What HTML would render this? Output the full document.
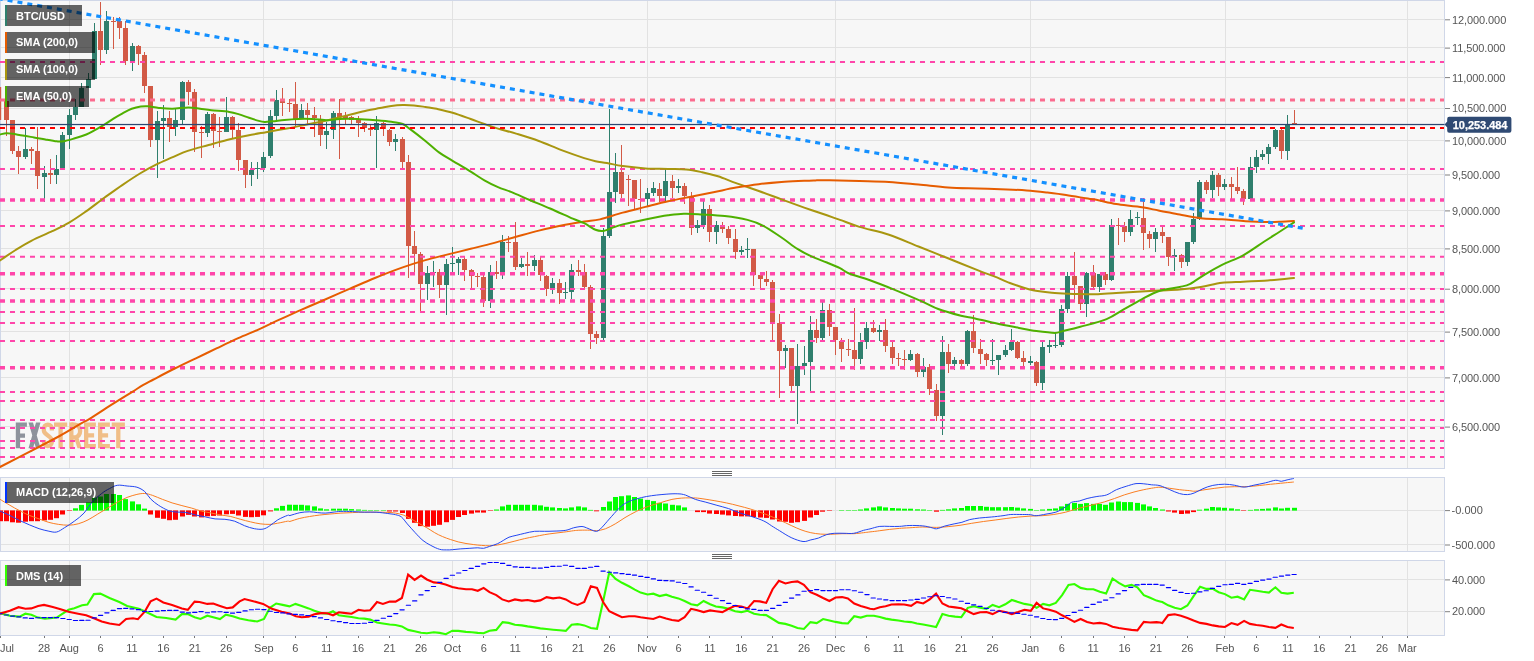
<!DOCTYPE html><html><head><meta charset="utf-8"><title>BTC/USD</title><style>
html,body{margin:0;padding:0;background:#fff;}body{width:1534px;height:661px;overflow:hidden;font-family:"Liberation Sans",sans-serif;}
svg{display:block;will-change:transform}text{font-family:"Liberation Sans",sans-serif;font-size:11px;fill:#555}
.lg{font-weight:bold;fill:#fff;font-size:11px}
</style></head><body>
<svg width="1534" height="661" viewBox="0 0 1534 661">
<rect width="1534" height="661" fill="#fff"/>
<rect x="0" y="0" width="1445" height="469" fill="#f7f7f7"/>
<rect x="0" y="477" width="1445" height="75" fill="#f7f7f7"/>
<rect x="0" y="560" width="1445" height="76" fill="#f7f7f7"/>
<g shape-rendering="crispEdges">
<rect x="69" y="0" width="1" height="468" fill="#e2e2e2"/>
<rect x="263" y="0" width="1" height="468" fill="#e2e2e2"/>
<rect x="452" y="0" width="1" height="468" fill="#e2e2e2"/>
<rect x="647" y="0" width="1" height="468" fill="#e2e2e2"/>
<rect x="835" y="0" width="1" height="468" fill="#e2e2e2"/>
<rect x="1030" y="0" width="1" height="468" fill="#e2e2e2"/>
<rect x="1225" y="0" width="1" height="468" fill="#e2e2e2"/>
<rect x="1407" y="0" width="1" height="468" fill="#e2e2e2"/>
<rect x="69" y="477" width="1" height="74" fill="#e2e2e2"/>
<rect x="263" y="477" width="1" height="74" fill="#e2e2e2"/>
<rect x="452" y="477" width="1" height="74" fill="#e2e2e2"/>
<rect x="647" y="477" width="1" height="74" fill="#e2e2e2"/>
<rect x="835" y="477" width="1" height="74" fill="#e2e2e2"/>
<rect x="1030" y="477" width="1" height="74" fill="#e2e2e2"/>
<rect x="1225" y="477" width="1" height="74" fill="#e2e2e2"/>
<rect x="1407" y="477" width="1" height="74" fill="#e2e2e2"/>
<rect x="69" y="560" width="1" height="75" fill="#e2e2e2"/>
<rect x="263" y="560" width="1" height="75" fill="#e2e2e2"/>
<rect x="452" y="560" width="1" height="75" fill="#e2e2e2"/>
<rect x="647" y="560" width="1" height="75" fill="#e2e2e2"/>
<rect x="835" y="560" width="1" height="75" fill="#e2e2e2"/>
<rect x="1030" y="560" width="1" height="75" fill="#e2e2e2"/>
<rect x="1225" y="560" width="1" height="75" fill="#e2e2e2"/>
<rect x="1407" y="560" width="1" height="75" fill="#e2e2e2"/>
<rect x="0" y="19" width="1445" height="1" fill="#e2e2e2"/>
<rect x="0" y="47" width="1445" height="1" fill="#e2e2e2"/>
<rect x="0" y="77" width="1445" height="1" fill="#e2e2e2"/>
<rect x="0" y="108" width="1445" height="1" fill="#e2e2e2"/>
<rect x="0" y="140" width="1445" height="1" fill="#e2e2e2"/>
<rect x="0" y="174" width="1445" height="1" fill="#e2e2e2"/>
<rect x="0" y="210" width="1445" height="1" fill="#e2e2e2"/>
<rect x="0" y="248" width="1445" height="1" fill="#e2e2e2"/>
<rect x="0" y="288" width="1445" height="1" fill="#e2e2e2"/>
<rect x="0" y="331" width="1445" height="1" fill="#e2e2e2"/>
<rect x="0" y="377" width="1445" height="1" fill="#e2e2e2"/>
<rect x="0" y="426" width="1445" height="1" fill="#e2e2e2"/>
<rect x="0" y="510" width="1445" height="1" fill="#e2e2e2"/>
<rect x="0" y="544" width="1445" height="1" fill="#e2e2e2"/>
<rect x="0" y="579" width="1445" height="1" fill="#e2e2e2"/>
<rect x="0" y="611" width="1445" height="1" fill="#e2e2e2"/>
</g>
<g shape-rendering="crispEdges" fill="#d0d7e8">
<rect x="0" y="0" width="1445" height="1"/>
<rect x="0" y="468" width="1445" height="1"/>
<rect x="0" y="0" width="1" height="469"/>
<rect x="1444" y="0" width="1" height="469"/>
<rect x="0" y="477" width="1445" height="1"/>
<rect x="0" y="551" width="1445" height="1"/>
<rect x="0" y="477" width="1" height="75"/>
<rect x="1444" y="477" width="1" height="75"/>
<rect x="0" y="560" width="1445" height="1"/>
<rect x="0" y="635" width="1445" height="1"/>
<rect x="0" y="560" width="1" height="76"/>
<rect x="1444" y="560" width="1" height="76"/>
</g>
<g fill="#8e939c"><path transform="translate(15.8 422.4)" d="M0 0h11.1v4.3h-6.8v6.8h4.9v4.3h-4.9v10.5h-4.3z"/><path transform="translate(28.5 422.4)" d="M0 0h4.5L12 25.9h-4.5zM12 0L4.5 25.9h-4.5L7.5 0z"/></g>
<g fill="#f0be87"><path transform="translate(41.7 422.4)" d="M10.15 8V6.5A4 4.35 0 0 0 2.15 6.5V8C2.15 12.5 10.15 13.5 10.15 18V19.4A4 4.35 0 0 1 2.15 19.4V17.6" fill="none" stroke="#f0be87" stroke-width="4.3"/><path transform="translate(54.0 422.4)" d="M0 0h13.2v4.3h-4.45v21.6h-4.3v-21.6h-4.45z"/><g transform="translate(69.2 422.4)"><path d="M0 0h4.3v25.9h-4.3z"/><path d="M2.15 2.15H6A4.1 5.3 0 0 1 6 14.9H2.15" fill="none" stroke="#f0be87" stroke-width="4.3"/><path d="M4.8 15h4.3L12.7 25.9h-4.4z"/></g><path transform="translate(84.0 422.4)" d="M0 0h11.9v4.3h-7.6v6.6h5.8v4.3h-5.8v6.4h7.6v4.3h-11.9z"/><path transform="translate(98.0 422.4)" d="M0 0h11.9v4.3h-7.6v6.6h5.8v4.3h-5.8v6.4h7.6v4.3h-11.9z"/><path transform="translate(111.7 422.4)" d="M0 0h13.2v4.3h-4.45v21.6h-4.3v-21.6h-4.45z"/></g>
<g shape-rendering="crispEdges">
<rect x="0" y="87.0" width="1.2" height="33.0" fill="#d25a46" shape-rendering="auto"/>
<rect x="6" y="98.6" width="1" height="37.4" fill="#d25a46"/>
<rect x="4" y="101.0" width="5" height="18.5" fill="#d25a46"/>
<rect x="12" y="119.7" width="1" height="34.7" fill="#d25a46"/>
<rect x="10" y="119.7" width="5" height="31.6" fill="#d25a46"/>
<rect x="18" y="146.3" width="1" height="27.2" fill="#d25a46"/>
<rect x="16" y="151.3" width="5" height="5.2" fill="#d25a46"/>
<rect x="25" y="128.0" width="1" height="30.8" fill="#2f7f6d"/>
<rect x="23" y="149.0" width="5" height="7.5" fill="#2f7f6d"/>
<rect x="31" y="147.0" width="1" height="17.4" fill="#d25a46"/>
<rect x="29" y="149.0" width="5" height="1.8" fill="#d25a46"/>
<rect x="37" y="126.5" width="1" height="62.9" fill="#d25a46"/>
<rect x="35" y="151.3" width="5" height="24.9" fill="#d25a46"/>
<rect x="44" y="166.0" width="1" height="35.9" fill="#2f7f6d"/>
<rect x="42" y="172.8" width="5" height="4.1" fill="#2f7f6d"/>
<rect x="50" y="159.2" width="1" height="25.2" fill="#d25a46"/>
<rect x="48" y="172.8" width="5" height="1.8" fill="#d25a46"/>
<rect x="56" y="155.3" width="1" height="28.4" fill="#2f7f6d"/>
<rect x="54" y="169.0" width="5" height="5.6" fill="#2f7f6d"/>
<rect x="62" y="132.2" width="1" height="37.8" fill="#2f7f6d"/>
<rect x="60" y="134.9" width="5" height="33.6" fill="#2f7f6d"/>
<rect x="69" y="108.8" width="1" height="39.7" fill="#2f7f6d"/>
<rect x="67" y="114.5" width="5" height="20.4" fill="#2f7f6d"/>
<rect x="75" y="98.6" width="1" height="20.9" fill="#2f7f6d"/>
<rect x="73" y="106.5" width="5" height="8.0" fill="#2f7f6d"/>
<rect x="81" y="82.7" width="1" height="24.5" fill="#2f7f6d"/>
<rect x="79" y="88.4" width="5" height="18.8" fill="#2f7f6d"/>
<rect x="88" y="72.5" width="1" height="15.9" fill="#2f7f6d"/>
<rect x="86" y="79.3" width="5" height="9.1" fill="#2f7f6d"/>
<rect x="94" y="22.6" width="1" height="56.7" fill="#2f7f6d"/>
<rect x="92" y="30.5" width="5" height="48.8" fill="#2f7f6d"/>
<rect x="100" y="2.4" width="1" height="62.5" fill="#d25a46"/>
<rect x="98" y="30.5" width="5" height="19.1" fill="#d25a46"/>
<rect x="106" y="11.4" width="1" height="42.6" fill="#2f7f6d"/>
<rect x="104" y="21.2" width="5" height="28.4" fill="#2f7f6d"/>
<rect x="113" y="17.3" width="1" height="31.9" fill="#d25a46"/>
<rect x="111" y="20.6" width="5" height="1.0" fill="#d25a46"/>
<rect x="119" y="17.3" width="1" height="22.0" fill="#d25a46"/>
<rect x="117" y="20.6" width="5" height="6.9" fill="#d25a46"/>
<rect x="125" y="21.2" width="1" height="44.1" fill="#d25a46"/>
<rect x="123" y="27.5" width="5" height="33.1" fill="#d25a46"/>
<rect x="132" y="43.3" width="1" height="27.9" fill="#2f7f6d"/>
<rect x="130" y="46.2" width="5" height="14.4" fill="#2f7f6d"/>
<rect x="138" y="44.8" width="1" height="19.7" fill="#d25a46"/>
<rect x="136" y="46.2" width="5" height="7.9" fill="#d25a46"/>
<rect x="144" y="51.5" width="1" height="41.9" fill="#d25a46"/>
<rect x="142" y="54.7" width="5" height="31.2" fill="#d25a46"/>
<rect x="150" y="85.9" width="1" height="61.5" fill="#d25a46"/>
<rect x="148" y="85.9" width="5" height="53.6" fill="#d25a46"/>
<rect x="157" y="111.4" width="1" height="66.2" fill="#2f7f6d"/>
<rect x="155" y="121.2" width="5" height="18.3" fill="#2f7f6d"/>
<rect x="163" y="105.3" width="1" height="53.5" fill="#2f7f6d"/>
<rect x="161" y="118.0" width="5" height="3.2" fill="#2f7f6d"/>
<rect x="169" y="111.0" width="1" height="30.7" fill="#d25a46"/>
<rect x="167" y="118.0" width="5" height="9.0" fill="#d25a46"/>
<rect x="175" y="107.7" width="1" height="28.3" fill="#2f7f6d"/>
<rect x="173" y="120.1" width="5" height="6.9" fill="#2f7f6d"/>
<rect x="182" y="81.0" width="1" height="42.5" fill="#2f7f6d"/>
<rect x="180" y="82.1" width="5" height="38.0" fill="#2f7f6d"/>
<rect x="188" y="80.1" width="1" height="24.7" fill="#d25a46"/>
<rect x="186" y="82.1" width="5" height="9.6" fill="#d25a46"/>
<rect x="194" y="88.9" width="1" height="63.0" fill="#d25a46"/>
<rect x="192" y="91.7" width="5" height="40.4" fill="#d25a46"/>
<rect x="201" y="126.2" width="1" height="31.5" fill="#d25a46"/>
<rect x="199" y="132.1" width="5" height="1.0" fill="#d25a46"/>
<rect x="207" y="111.5" width="1" height="25.9" fill="#2f7f6d"/>
<rect x="205" y="114.4" width="5" height="18.7" fill="#2f7f6d"/>
<rect x="213" y="113.4" width="1" height="35.0" fill="#d25a46"/>
<rect x="211" y="114.4" width="5" height="16.3" fill="#d25a46"/>
<rect x="219" y="117.4" width="1" height="29.9" fill="#d25a46"/>
<rect x="217" y="130.7" width="5" height="1.0" fill="#d25a46"/>
<rect x="226" y="97.3" width="1" height="34.2" fill="#2f7f6d"/>
<rect x="224" y="117.4" width="5" height="14.1" fill="#2f7f6d"/>
<rect x="232" y="116.4" width="1" height="21.6" fill="#d25a46"/>
<rect x="230" y="117.4" width="5" height="12.2" fill="#d25a46"/>
<rect x="238" y="122.9" width="1" height="48.5" fill="#d25a46"/>
<rect x="236" y="129.6" width="5" height="30.4" fill="#d25a46"/>
<rect x="245" y="160.0" width="1" height="27.6" fill="#d25a46"/>
<rect x="243" y="160.0" width="5" height="15.4" fill="#d25a46"/>
<rect x="251" y="161.6" width="1" height="24.0" fill="#2f7f6d"/>
<rect x="249" y="169.5" width="5" height="5.9" fill="#2f7f6d"/>
<rect x="257" y="161.6" width="1" height="17.7" fill="#2f7f6d"/>
<rect x="255" y="168.3" width="5" height="1.0" fill="#2f7f6d"/>
<rect x="263" y="151.8" width="1" height="20.6" fill="#2f7f6d"/>
<rect x="261" y="156.7" width="5" height="11.4" fill="#2f7f6d"/>
<rect x="270" y="109.5" width="1" height="48.2" fill="#2f7f6d"/>
<rect x="268" y="116.0" width="5" height="40.3" fill="#2f7f6d"/>
<rect x="276" y="90.2" width="1" height="32.1" fill="#2f7f6d"/>
<rect x="274" y="100.3" width="5" height="15.7" fill="#2f7f6d"/>
<rect x="282" y="87.5" width="1" height="28.9" fill="#d25a46"/>
<rect x="280" y="99.7" width="5" height="3.3" fill="#d25a46"/>
<rect x="289" y="98.7" width="1" height="12.8" fill="#d25a46"/>
<rect x="287" y="103.0" width="5" height="1.0" fill="#d25a46"/>
<rect x="295" y="81.6" width="1" height="44.6" fill="#d25a46"/>
<rect x="293" y="104.0" width="5" height="14.7" fill="#d25a46"/>
<rect x="301" y="103.6" width="1" height="15.7" fill="#2f7f6d"/>
<rect x="299" y="109.5" width="5" height="9.2" fill="#2f7f6d"/>
<rect x="307" y="102.6" width="1" height="21.1" fill="#d25a46"/>
<rect x="305" y="109.5" width="5" height="5.3" fill="#d25a46"/>
<rect x="314" y="106.5" width="1" height="30.1" fill="#d25a46"/>
<rect x="312" y="114.8" width="5" height="3.2" fill="#d25a46"/>
<rect x="320" y="115.4" width="1" height="30.1" fill="#d25a46"/>
<rect x="318" y="118.5" width="5" height="16.0" fill="#d25a46"/>
<rect x="326" y="122.3" width="1" height="27.1" fill="#2f7f6d"/>
<rect x="324" y="130.7" width="5" height="3.8" fill="#2f7f6d"/>
<rect x="333" y="110.5" width="1" height="28.1" fill="#2f7f6d"/>
<rect x="331" y="113.4" width="5" height="16.7" fill="#2f7f6d"/>
<rect x="339" y="99.3" width="1" height="59.4" fill="#d25a46"/>
<rect x="337" y="113.4" width="5" height="4.0" fill="#d25a46"/>
<rect x="345" y="112.4" width="1" height="12.8" fill="#d25a46"/>
<rect x="343" y="116.4" width="5" height="1.4" fill="#d25a46"/>
<rect x="351" y="116.4" width="1" height="7.3" fill="#d25a46"/>
<rect x="349" y="117.4" width="5" height="2.9" fill="#d25a46"/>
<rect x="358" y="116.4" width="1" height="20.2" fill="#d25a46"/>
<rect x="356" y="120.3" width="5" height="2.6" fill="#d25a46"/>
<rect x="364" y="122.3" width="1" height="9.2" fill="#d25a46"/>
<rect x="362" y="122.9" width="5" height="5.3" fill="#d25a46"/>
<rect x="370" y="124.8" width="1" height="10.7" fill="#d25a46"/>
<rect x="368" y="128.2" width="5" height="1.9" fill="#d25a46"/>
<rect x="376" y="116.4" width="1" height="51.1" fill="#2f7f6d"/>
<rect x="374" y="122.9" width="5" height="7.2" fill="#2f7f6d"/>
<rect x="383" y="121.7" width="1" height="14.6" fill="#d25a46"/>
<rect x="381" y="122.9" width="5" height="6.1" fill="#d25a46"/>
<rect x="389" y="129.0" width="1" height="17.3" fill="#d25a46"/>
<rect x="387" y="129.7" width="5" height="12.4" fill="#d25a46"/>
<rect x="395" y="134.2" width="1" height="17.1" fill="#2f7f6d"/>
<rect x="393" y="138.8" width="5" height="3.4" fill="#2f7f6d"/>
<rect x="402" y="137.2" width="1" height="31.1" fill="#d25a46"/>
<rect x="400" y="138.8" width="5" height="22.7" fill="#d25a46"/>
<rect x="408" y="155.3" width="1" height="123.0" fill="#d25a46"/>
<rect x="406" y="161.5" width="5" height="84.5" fill="#d25a46"/>
<rect x="414" y="230.6" width="1" height="42.0" fill="#d25a46"/>
<rect x="412" y="246.0" width="5" height="8.0" fill="#d25a46"/>
<rect x="420" y="251.7" width="1" height="59.5" fill="#d25a46"/>
<rect x="418" y="254.0" width="5" height="29.9" fill="#d25a46"/>
<rect x="427" y="265.8" width="1" height="34.0" fill="#2f7f6d"/>
<rect x="425" y="273.0" width="5" height="10.9" fill="#2f7f6d"/>
<rect x="433" y="261.3" width="1" height="26.0" fill="#2f7f6d"/>
<rect x="431" y="271.5" width="5" height="1.5" fill="#2f7f6d"/>
<rect x="439" y="269.2" width="1" height="28.3" fill="#d25a46"/>
<rect x="437" y="271.5" width="5" height="13.6" fill="#d25a46"/>
<rect x="446" y="258.5" width="1" height="56.1" fill="#2f7f6d"/>
<rect x="444" y="264.2" width="5" height="20.9" fill="#2f7f6d"/>
<rect x="452" y="246.5" width="1" height="25.0" fill="#2f7f6d"/>
<rect x="450" y="263.0" width="5" height="1.2" fill="#2f7f6d"/>
<rect x="458" y="256.7" width="1" height="18.2" fill="#2f7f6d"/>
<rect x="456" y="258.5" width="5" height="4.5" fill="#2f7f6d"/>
<rect x="464" y="255.6" width="1" height="25.6" fill="#d25a46"/>
<rect x="462" y="258.5" width="5" height="11.4" fill="#d25a46"/>
<rect x="471" y="269.2" width="1" height="19.3" fill="#d25a46"/>
<rect x="469" y="269.9" width="5" height="6.1" fill="#d25a46"/>
<rect x="477" y="272.6" width="1" height="14.7" fill="#d25a46"/>
<rect x="475" y="276.0" width="5" height="1.1" fill="#d25a46"/>
<rect x="483" y="274.9" width="1" height="32.2" fill="#d25a46"/>
<rect x="481" y="277.1" width="5" height="23.9" fill="#d25a46"/>
<rect x="490" y="264.7" width="1" height="43.7" fill="#2f7f6d"/>
<rect x="488" y="272.1" width="5" height="28.9" fill="#2f7f6d"/>
<rect x="496" y="261.3" width="1" height="18.1" fill="#d25a46"/>
<rect x="494" y="272.1" width="5" height="1.6" fill="#d25a46"/>
<rect x="502" y="234.5" width="1" height="44.9" fill="#2f7f6d"/>
<rect x="500" y="241.5" width="5" height="31.5" fill="#2f7f6d"/>
<rect x="508" y="236.3" width="1" height="15.9" fill="#d25a46"/>
<rect x="506" y="241.5" width="5" height="1.1" fill="#d25a46"/>
<rect x="515" y="222.2" width="1" height="48.1" fill="#d25a46"/>
<rect x="513" y="242.0" width="5" height="24.9" fill="#d25a46"/>
<rect x="521" y="257.8" width="1" height="9.8" fill="#2f7f6d"/>
<rect x="519" y="264.2" width="5" height="2.7" fill="#2f7f6d"/>
<rect x="527" y="251.7" width="1" height="24.3" fill="#d25a46"/>
<rect x="525" y="264.2" width="5" height="1.6" fill="#d25a46"/>
<rect x="534" y="254.9" width="1" height="15.9" fill="#2f7f6d"/>
<rect x="532" y="260.1" width="5" height="5.7" fill="#2f7f6d"/>
<rect x="540" y="255.6" width="1" height="25.6" fill="#d25a46"/>
<rect x="538" y="260.1" width="5" height="15.2" fill="#d25a46"/>
<rect x="546" y="274.9" width="1" height="21.5" fill="#d25a46"/>
<rect x="544" y="276.0" width="5" height="12.9" fill="#d25a46"/>
<rect x="552" y="278.3" width="1" height="15.8" fill="#2f7f6d"/>
<rect x="550" y="282.8" width="5" height="6.1" fill="#2f7f6d"/>
<rect x="559" y="279.4" width="1" height="25.0" fill="#d25a46"/>
<rect x="557" y="282.8" width="5" height="10.2" fill="#d25a46"/>
<rect x="565" y="281.7" width="1" height="17.7" fill="#2f7f6d"/>
<rect x="563" y="291.9" width="5" height="1.1" fill="#2f7f6d"/>
<rect x="571" y="264.2" width="1" height="35.2" fill="#2f7f6d"/>
<rect x="569" y="269.9" width="5" height="22.0" fill="#2f7f6d"/>
<rect x="578" y="260.1" width="1" height="15.9" fill="#d25a46"/>
<rect x="576" y="269.9" width="5" height="2.2" fill="#d25a46"/>
<rect x="584" y="263.5" width="1" height="25.0" fill="#d25a46"/>
<rect x="582" y="272.1" width="5" height="14.6" fill="#d25a46"/>
<rect x="590" y="285.0" width="1" height="63.6" fill="#d25a46"/>
<rect x="588" y="287.3" width="5" height="47.0" fill="#d25a46"/>
<rect x="596" y="331.1" width="1" height="12.9" fill="#d25a46"/>
<rect x="594" y="334.3" width="5" height="3.4" fill="#d25a46"/>
<rect x="603" y="228.4" width="1" height="111.1" fill="#2f7f6d"/>
<rect x="601" y="235.8" width="5" height="101.9" fill="#2f7f6d"/>
<rect x="609" y="109.3" width="1" height="128.2" fill="#2f7f6d"/>
<rect x="607" y="192.2" width="5" height="43.5" fill="#2f7f6d"/>
<rect x="615" y="153.2" width="1" height="49.9" fill="#2f7f6d"/>
<rect x="613" y="171.8" width="5" height="20.4" fill="#2f7f6d"/>
<rect x="621" y="144.5" width="1" height="53.3" fill="#d25a46"/>
<rect x="619" y="171.8" width="5" height="22.6" fill="#d25a46"/>
<rect x="628" y="174.5" width="1" height="31.3" fill="#d25a46"/>
<rect x="626" y="178.6" width="5" height="1.1" fill="#d25a46"/>
<rect x="634" y="179.7" width="1" height="29.5" fill="#d25a46"/>
<rect x="632" y="180.2" width="5" height="18.3" fill="#d25a46"/>
<rect x="640" y="179.0" width="1" height="34.0" fill="#d25a46"/>
<rect x="638" y="198.9" width="5" height="1.0" fill="#d25a46"/>
<rect x="647" y="188.1" width="1" height="17.7" fill="#2f7f6d"/>
<rect x="645" y="192.6" width="5" height="6.8" fill="#2f7f6d"/>
<rect x="653" y="182.0" width="1" height="13.6" fill="#2f7f6d"/>
<rect x="651" y="188.3" width="5" height="4.3" fill="#2f7f6d"/>
<rect x="659" y="183.1" width="1" height="19.3" fill="#d25a46"/>
<rect x="657" y="188.8" width="5" height="6.8" fill="#d25a46"/>
<rect x="665" y="169.0" width="1" height="32.3" fill="#2f7f6d"/>
<rect x="663" y="181.3" width="5" height="14.3" fill="#2f7f6d"/>
<rect x="672" y="175.2" width="1" height="22.6" fill="#d25a46"/>
<rect x="670" y="181.3" width="5" height="6.3" fill="#d25a46"/>
<rect x="678" y="178.6" width="1" height="14.0" fill="#2f7f6d"/>
<rect x="676" y="186.0" width="5" height="1.6" fill="#2f7f6d"/>
<rect x="684" y="183.1" width="1" height="20.9" fill="#d25a46"/>
<rect x="682" y="186.1" width="5" height="10.2" fill="#d25a46"/>
<rect x="691" y="191.7" width="1" height="43.6" fill="#d25a46"/>
<rect x="689" y="196.7" width="5" height="31.3" fill="#d25a46"/>
<rect x="697" y="219.9" width="1" height="12.7" fill="#2f7f6d"/>
<rect x="695" y="225.1" width="5" height="2.9" fill="#2f7f6d"/>
<rect x="703" y="200.8" width="1" height="28.1" fill="#2f7f6d"/>
<rect x="701" y="208.5" width="5" height="16.6" fill="#2f7f6d"/>
<rect x="709" y="205.3" width="1" height="36.3" fill="#d25a46"/>
<rect x="707" y="208.5" width="5" height="23.4" fill="#d25a46"/>
<rect x="716" y="220.5" width="1" height="23.9" fill="#2f7f6d"/>
<rect x="714" y="225.1" width="5" height="6.8" fill="#2f7f6d"/>
<rect x="722" y="222.1" width="1" height="10.5" fill="#d25a46"/>
<rect x="720" y="225.1" width="5" height="3.4" fill="#d25a46"/>
<rect x="728" y="225.8" width="1" height="18.6" fill="#d25a46"/>
<rect x="726" y="228.9" width="5" height="9.1" fill="#d25a46"/>
<rect x="735" y="228.5" width="1" height="30.6" fill="#d25a46"/>
<rect x="733" y="238.7" width="5" height="12.9" fill="#d25a46"/>
<rect x="741" y="246.2" width="1" height="8.4" fill="#2f7f6d"/>
<rect x="739" y="250.0" width="5" height="1.6" fill="#2f7f6d"/>
<rect x="747" y="238.2" width="1" height="19.8" fill="#2f7f6d"/>
<rect x="745" y="248.9" width="5" height="1.1" fill="#2f7f6d"/>
<rect x="753" y="248.9" width="1" height="37.4" fill="#d25a46"/>
<rect x="751" y="248.9" width="5" height="26.1" fill="#d25a46"/>
<rect x="760" y="275.4" width="1" height="13.2" fill="#d25a46"/>
<rect x="758" y="275.4" width="5" height="3.4" fill="#d25a46"/>
<rect x="766" y="271.1" width="1" height="14.6" fill="#d25a46"/>
<rect x="764" y="278.8" width="5" height="3.0" fill="#d25a46"/>
<rect x="772" y="279.5" width="1" height="60.6" fill="#d25a46"/>
<rect x="770" y="282.2" width="5" height="40.4" fill="#d25a46"/>
<rect x="779" y="314.0" width="1" height="84.4" fill="#d25a46"/>
<rect x="777" y="322.6" width="5" height="28.2" fill="#d25a46"/>
<rect x="785" y="345.3" width="1" height="22.7" fill="#2f7f6d"/>
<rect x="783" y="347.6" width="5" height="3.2" fill="#2f7f6d"/>
<rect x="791" y="347.6" width="1" height="43.1" fill="#d25a46"/>
<rect x="789" y="347.6" width="5" height="38.6" fill="#d25a46"/>
<rect x="797" y="343.5" width="1" height="80.6" fill="#2f7f6d"/>
<rect x="795" y="366.2" width="5" height="20.0" fill="#2f7f6d"/>
<rect x="804" y="346.2" width="1" height="29.1" fill="#2f7f6d"/>
<rect x="802" y="363.3" width="5" height="2.5" fill="#2f7f6d"/>
<rect x="810" y="316.3" width="1" height="74.9" fill="#2f7f6d"/>
<rect x="808" y="329.9" width="5" height="32.2" fill="#2f7f6d"/>
<rect x="816" y="318.6" width="1" height="24.5" fill="#d25a46"/>
<rect x="814" y="329.9" width="5" height="7.9" fill="#d25a46"/>
<rect x="822" y="302.2" width="1" height="37.9" fill="#2f7f6d"/>
<rect x="820" y="310.2" width="5" height="27.6" fill="#2f7f6d"/>
<rect x="829" y="303.8" width="1" height="32.5" fill="#d25a46"/>
<rect x="827" y="310.2" width="5" height="16.3" fill="#d25a46"/>
<rect x="835" y="327.2" width="1" height="28.1" fill="#d25a46"/>
<rect x="833" y="327.2" width="5" height="12.9" fill="#d25a46"/>
<rect x="841" y="337.8" width="1" height="24.3" fill="#d25a46"/>
<rect x="839" y="340.8" width="5" height="8.4" fill="#d25a46"/>
<rect x="848" y="339.4" width="1" height="16.6" fill="#d25a46"/>
<rect x="846" y="349.2" width="5" height="1.1" fill="#d25a46"/>
<rect x="854" y="308.4" width="1" height="61.9" fill="#d25a46"/>
<rect x="852" y="350.3" width="5" height="9.1" fill="#d25a46"/>
<rect x="860" y="332.6" width="1" height="31.3" fill="#2f7f6d"/>
<rect x="858" y="341.7" width="5" height="17.7" fill="#2f7f6d"/>
<rect x="866" y="322.0" width="1" height="27.2" fill="#2f7f6d"/>
<rect x="864" y="328.3" width="5" height="13.4" fill="#2f7f6d"/>
<rect x="873" y="320.4" width="1" height="12.9" fill="#d25a46"/>
<rect x="871" y="328.3" width="5" height="3.4" fill="#d25a46"/>
<rect x="879" y="325.4" width="1" height="15.9" fill="#2f7f6d"/>
<rect x="877" y="330.4" width="5" height="1.1" fill="#2f7f6d"/>
<rect x="885" y="318.6" width="1" height="33.5" fill="#d25a46"/>
<rect x="883" y="330.4" width="5" height="15.8" fill="#d25a46"/>
<rect x="892" y="341.3" width="1" height="22.2" fill="#d25a46"/>
<rect x="890" y="346.5" width="5" height="11.1" fill="#d25a46"/>
<rect x="898" y="353.0" width="1" height="12.8" fill="#d25a46"/>
<rect x="896" y="357.6" width="5" height="1.0" fill="#d25a46"/>
<rect x="904" y="350.3" width="1" height="20.0" fill="#d25a46"/>
<rect x="902" y="359.0" width="5" height="1.0" fill="#d25a46"/>
<rect x="910" y="350.3" width="1" height="10.2" fill="#2f7f6d"/>
<rect x="908" y="354.4" width="5" height="5.5" fill="#2f7f6d"/>
<rect x="917" y="353.0" width="1" height="24.1" fill="#d25a46"/>
<rect x="915" y="354.4" width="5" height="17.5" fill="#d25a46"/>
<rect x="923" y="358.3" width="1" height="18.8" fill="#2f7f6d"/>
<rect x="921" y="367.3" width="5" height="4.6" fill="#2f7f6d"/>
<rect x="929" y="364.4" width="1" height="30.8" fill="#d25a46"/>
<rect x="927" y="367.3" width="5" height="21.6" fill="#d25a46"/>
<rect x="936" y="384.4" width="1" height="36.7" fill="#d25a46"/>
<rect x="934" y="389.6" width="5" height="26.1" fill="#d25a46"/>
<rect x="942" y="336.3" width="1" height="98.2" fill="#2f7f6d"/>
<rect x="940" y="351.5" width="5" height="64.2" fill="#2f7f6d"/>
<rect x="948" y="343.5" width="1" height="29.5" fill="#d25a46"/>
<rect x="946" y="351.5" width="5" height="12.0" fill="#d25a46"/>
<rect x="954" y="357.1" width="1" height="13.2" fill="#2f7f6d"/>
<rect x="952" y="359.9" width="5" height="3.6" fill="#2f7f6d"/>
<rect x="961" y="359.4" width="1" height="7.9" fill="#d25a46"/>
<rect x="959" y="359.9" width="5" height="3.6" fill="#d25a46"/>
<rect x="967" y="329.9" width="1" height="36.3" fill="#2f7f6d"/>
<rect x="965" y="331.0" width="5" height="32.9" fill="#2f7f6d"/>
<rect x="973" y="315.2" width="1" height="37.8" fill="#d25a46"/>
<rect x="971" y="331.0" width="5" height="17.1" fill="#d25a46"/>
<rect x="980" y="338.6" width="1" height="24.9" fill="#d25a46"/>
<rect x="978" y="348.9" width="5" height="5.1" fill="#d25a46"/>
<rect x="986" y="353.0" width="1" height="13.2" fill="#d25a46"/>
<rect x="984" y="354.4" width="5" height="5.1" fill="#d25a46"/>
<rect x="992" y="338.8" width="1" height="25.7" fill="#2f7f6d"/>
<rect x="990" y="359.6" width="5" height="1.1" fill="#2f7f6d"/>
<rect x="998" y="354.8" width="1" height="19.8" fill="#2f7f6d"/>
<rect x="996" y="355.3" width="5" height="4.3" fill="#2f7f6d"/>
<rect x="1005" y="345.4" width="1" height="11.4" fill="#2f7f6d"/>
<rect x="1003" y="350.2" width="5" height="5.1" fill="#2f7f6d"/>
<rect x="1011" y="329.4" width="1" height="21.5" fill="#2f7f6d"/>
<rect x="1009" y="342.1" width="5" height="8.1" fill="#2f7f6d"/>
<rect x="1017" y="341.0" width="1" height="18.2" fill="#d25a46"/>
<rect x="1015" y="342.1" width="5" height="15.8" fill="#d25a46"/>
<rect x="1023" y="350.9" width="1" height="17.1" fill="#d25a46"/>
<rect x="1021" y="357.9" width="5" height="3.9" fill="#d25a46"/>
<rect x="1030" y="355.7" width="1" height="8.8" fill="#2f7f6d"/>
<rect x="1028" y="361.4" width="5" height="1.1" fill="#2f7f6d"/>
<rect x="1036" y="360.7" width="1" height="25.7" fill="#d25a46"/>
<rect x="1034" y="361.8" width="5" height="20.9" fill="#d25a46"/>
<rect x="1042" y="342.1" width="1" height="48.3" fill="#2f7f6d"/>
<rect x="1040" y="346.9" width="5" height="35.8" fill="#2f7f6d"/>
<rect x="1049" y="340.4" width="1" height="12.7" fill="#2f7f6d"/>
<rect x="1047" y="345.4" width="5" height="1.1" fill="#2f7f6d"/>
<rect x="1055" y="333.3" width="1" height="14.9" fill="#2f7f6d"/>
<rect x="1053" y="344.7" width="5" height="1.1" fill="#2f7f6d"/>
<rect x="1061" y="305.3" width="1" height="41.2" fill="#2f7f6d"/>
<rect x="1059" y="309.2" width="5" height="35.5" fill="#2f7f6d"/>
<rect x="1067" y="271.5" width="1" height="41.0" fill="#2f7f6d"/>
<rect x="1065" y="276.3" width="5" height="32.5" fill="#2f7f6d"/>
<rect x="1074" y="251.8" width="1" height="48.2" fill="#d25a46"/>
<rect x="1072" y="276.3" width="5" height="8.8" fill="#d25a46"/>
<rect x="1080" y="285.5" width="1" height="24.8" fill="#d25a46"/>
<rect x="1078" y="285.5" width="5" height="18.9" fill="#d25a46"/>
<rect x="1086" y="271.9" width="1" height="45.0" fill="#2f7f6d"/>
<rect x="1084" y="273.0" width="5" height="31.4" fill="#2f7f6d"/>
<rect x="1093" y="265.4" width="1" height="22.3" fill="#d25a46"/>
<rect x="1091" y="273.0" width="5" height="13.8" fill="#d25a46"/>
<rect x="1099" y="273.5" width="1" height="18.4" fill="#2f7f6d"/>
<rect x="1097" y="274.4" width="5" height="12.3" fill="#2f7f6d"/>
<rect x="1105" y="272.0" width="1" height="13.0" fill="#d25a46"/>
<rect x="1103" y="274.4" width="5" height="5.8" fill="#d25a46"/>
<rect x="1111" y="218.8" width="1" height="61.9" fill="#2f7f6d"/>
<rect x="1109" y="224.6" width="5" height="55.6" fill="#2f7f6d"/>
<rect x="1118" y="218.2" width="1" height="26.5" fill="#d25a46"/>
<rect x="1116" y="224.6" width="5" height="1.1" fill="#d25a46"/>
<rect x="1124" y="221.8" width="1" height="20.3" fill="#d25a46"/>
<rect x="1122" y="225.6" width="5" height="6.4" fill="#d25a46"/>
<rect x="1130" y="210.4" width="1" height="25.8" fill="#2f7f6d"/>
<rect x="1128" y="218.8" width="5" height="13.2" fill="#2f7f6d"/>
<rect x="1137" y="211.9" width="1" height="13.3" fill="#2f7f6d"/>
<rect x="1135" y="217.1" width="5" height="1.1" fill="#2f7f6d"/>
<rect x="1143" y="197.7" width="1" height="52.3" fill="#d25a46"/>
<rect x="1141" y="217.6" width="5" height="15.4" fill="#d25a46"/>
<rect x="1149" y="230.9" width="1" height="16.9" fill="#d25a46"/>
<rect x="1147" y="233.7" width="5" height="5.0" fill="#d25a46"/>
<rect x="1155" y="228.2" width="1" height="23.9" fill="#2f7f6d"/>
<rect x="1153" y="232.0" width="5" height="6.7" fill="#2f7f6d"/>
<rect x="1162" y="226.7" width="1" height="16.3" fill="#d25a46"/>
<rect x="1160" y="232.0" width="5" height="4.2" fill="#d25a46"/>
<rect x="1168" y="236.6" width="1" height="29.2" fill="#d25a46"/>
<rect x="1166" y="236.6" width="5" height="20.8" fill="#d25a46"/>
<rect x="1174" y="248.9" width="1" height="22.2" fill="#2f7f6d"/>
<rect x="1172" y="255.3" width="5" height="2.1" fill="#2f7f6d"/>
<rect x="1181" y="254.2" width="1" height="13.8" fill="#d25a46"/>
<rect x="1179" y="255.3" width="5" height="6.7" fill="#d25a46"/>
<rect x="1187" y="241.5" width="1" height="24.8" fill="#2f7f6d"/>
<rect x="1185" y="241.5" width="5" height="20.5" fill="#2f7f6d"/>
<rect x="1193" y="212.5" width="1" height="31.7" fill="#2f7f6d"/>
<rect x="1191" y="218.8" width="5" height="22.7" fill="#2f7f6d"/>
<rect x="1199" y="180.1" width="1" height="39.6" fill="#2f7f6d"/>
<rect x="1197" y="182.2" width="5" height="36.6" fill="#2f7f6d"/>
<rect x="1206" y="179.5" width="1" height="14.8" fill="#d25a46"/>
<rect x="1204" y="182.2" width="5" height="7.4" fill="#d25a46"/>
<rect x="1212" y="170.6" width="1" height="27.5" fill="#2f7f6d"/>
<rect x="1210" y="174.8" width="5" height="14.8" fill="#2f7f6d"/>
<rect x="1218" y="173.1" width="1" height="22.9" fill="#d25a46"/>
<rect x="1216" y="174.8" width="5" height="11.7" fill="#d25a46"/>
<rect x="1224" y="178.6" width="1" height="11.5" fill="#2f7f6d"/>
<rect x="1222" y="183.7" width="5" height="2.8" fill="#2f7f6d"/>
<rect x="1231" y="176.7" width="1" height="21.8" fill="#d25a46"/>
<rect x="1229" y="184.0" width="5" height="2.8" fill="#d25a46"/>
<rect x="1237" y="167.4" width="1" height="26.9" fill="#d25a46"/>
<rect x="1235" y="187.2" width="5" height="4.0" fill="#d25a46"/>
<rect x="1243" y="188.5" width="1" height="16.5" fill="#d25a46"/>
<rect x="1241" y="191.2" width="5" height="7.3" fill="#d25a46"/>
<rect x="1250" y="156.6" width="1" height="41.9" fill="#2f7f6d"/>
<rect x="1248" y="167.0" width="5" height="31.5" fill="#2f7f6d"/>
<rect x="1256" y="150.2" width="1" height="23.0" fill="#2f7f6d"/>
<rect x="1254" y="157.4" width="5" height="9.5" fill="#2f7f6d"/>
<rect x="1262" y="149.6" width="1" height="10.6" fill="#2f7f6d"/>
<rect x="1260" y="154.1" width="5" height="2.8" fill="#2f7f6d"/>
<rect x="1268" y="144.1" width="1" height="19.5" fill="#2f7f6d"/>
<rect x="1266" y="147.4" width="5" height="6.3" fill="#2f7f6d"/>
<rect x="1275" y="129.0" width="1" height="19.6" fill="#2f7f6d"/>
<rect x="1273" y="129.9" width="5" height="17.2" fill="#2f7f6d"/>
<rect x="1281" y="129.0" width="1" height="29.6" fill="#d25a46"/>
<rect x="1279" y="129.9" width="5" height="20.8" fill="#d25a46"/>
<rect x="1287" y="115.3" width="1" height="45.1" fill="#2f7f6d"/>
<rect x="1285" y="123.6" width="5" height="27.1" fill="#2f7f6d"/>
<rect x="1294" y="109.6" width="1" height="14.4" fill="#d25a46"/>
<rect x="1292" y="123.0" width="5" height="1.0" fill="#d25a46"/>
</g>
<g fill="none" stroke-dasharray="5 5">
<path d="M0 62.0 H1444" stroke="#ff46aa" stroke-width="2"/>
<path d="M0 100.0 H1444" stroke="#fb6c8f" stroke-width="3.2"/>
<path d="M0 169.0 H1444" stroke="#ff46aa" stroke-width="2"/>
<path d="M0 199.9 H1444" stroke="#ff46aa" stroke-width="3.5"/>
<path d="M0 226.0 H1444" stroke="#ff46aa" stroke-width="2"/>
<path d="M0 256.8 H1444" stroke="#ff46aa" stroke-width="2"/>
<path d="M0 273.8 H1444" stroke="#ff46aa" stroke-width="3.5"/>
<path d="M0 289.0 H1444" stroke="#ff46aa" stroke-width="2"/>
<path d="M0 301.0 H1444" stroke="#ff46aa" stroke-width="3.5"/>
<path d="M0 311.9 H1444" stroke="#ff46aa" stroke-width="2"/>
<path d="M0 323.0 H1444" stroke="#ff46aa" stroke-width="2"/>
<path d="M0 340.9 H1444" stroke="#ff46aa" stroke-width="2"/>
<path d="M0 367.8 H1444" stroke="#ff46aa" stroke-width="3.6"/>
<path d="M0 392.0 H1444" stroke="#ff46aa" stroke-width="2"/>
<path d="M0 401.0 H1444" stroke="#ff46aa" stroke-width="2"/>
<path d="M0 420.0 H1444" stroke="#ff46aa" stroke-width="2"/>
<path d="M0 427.9 H1444" stroke="#ff46aa" stroke-width="2"/>
<path d="M0 440.9 H1444" stroke="#ff46aa" stroke-width="2"/>
<path d="M0 448.0 H1444" stroke="#ff46aa" stroke-width="2"/>
<path d="M0 457.0 H1444" stroke="#ff46aa" stroke-width="2"/>
</g>
<g fill="none" stroke-width="2" stroke-linejoin="round" stroke-linecap="round">
<path d="M0.0 260.4 C2.6 258.7 10.4 253.3 15.6 250.0 C20.8 246.7 25.2 243.9 31.3 240.8 C37.4 237.7 45.9 234.2 52.2 231.2 C58.5 228.2 63.5 225.9 69.1 222.6 C74.7 219.3 80.1 215.5 86.0 211.4 C91.9 207.3 98.2 202.2 104.3 197.8 C110.4 193.4 116.5 188.9 122.6 184.8 C128.7 180.7 135.2 176.4 140.8 173.0 C146.5 169.6 151.3 167.0 156.5 164.4 C161.7 161.8 166.9 159.7 172.1 157.4 C177.3 155.2 181.6 153.0 187.7 150.9 C193.8 148.8 202.1 146.8 208.6 145.0 C215.1 143.2 220.4 141.6 226.9 140.0 C233.4 138.4 241.2 136.8 247.7 135.5 C254.2 134.2 259.2 133.4 266.0 132.2 C272.8 131.0 281.3 129.5 288.3 128.2 C295.3 126.9 301.4 125.5 308.0 124.2 C314.6 122.9 321.1 121.8 327.7 120.3 C334.2 118.8 340.8 117.0 347.3 115.4 C353.9 113.8 361.6 111.7 367.0 110.5 C372.4 109.3 375.9 108.9 380.0 108.1 C384.1 107.3 387.5 106.4 391.3 105.9 C395.1 105.4 398.9 105.1 402.7 105.0 C406.5 104.9 410.2 105.1 414.0 105.4 C417.8 105.7 421.6 106.4 425.4 107.0 C429.2 107.6 432.2 107.8 436.7 108.8 C441.2 109.8 446.9 111.0 452.6 112.7 C458.3 114.4 465.4 117.1 470.7 119.0 C476.0 120.9 479.8 122.4 484.4 124.0 C488.9 125.6 492.7 127.0 498.0 128.6 C503.3 130.2 509.3 131.5 516.1 133.6 C522.9 135.7 531.2 138.2 538.8 141.0 C546.4 143.8 553.9 147.2 561.5 150.1 C569.1 152.9 578.5 156.2 584.2 158.1 C589.9 159.9 591.7 160.4 595.5 161.2 C599.3 162.0 602.4 162.2 606.9 163.0 C611.4 163.8 616.3 165.2 622.7 166.1 C629.1 167.0 637.8 167.9 645.4 168.4 C653.0 168.9 661.3 168.8 668.1 169.0 C674.9 169.2 680.5 169.0 686.2 169.5 C691.9 170.0 696.8 171.1 702.1 172.2 C707.4 173.3 712.3 174.5 718.0 176.3 C723.7 178.1 729.3 180.7 736.1 183.1 C742.9 185.5 751.2 188.3 758.8 191.0 C766.4 193.7 773.9 196.6 781.5 199.4 C789.1 202.2 796.6 204.9 804.2 207.6 C811.8 210.2 820.9 213.2 826.9 215.3 C832.9 217.4 834.6 218.0 840.0 219.9 C845.4 221.8 851.3 224.4 859.5 226.9 C867.7 229.4 879.2 231.4 889.0 234.7 C898.8 238.0 908.7 242.6 918.5 246.5 C928.3 250.4 938.2 254.4 948.0 258.3 C957.8 262.2 969.4 266.9 977.5 270.1 C985.6 273.3 992.0 275.4 996.9 277.4 C1001.8 279.4 1001.5 279.9 1007.0 281.9 C1012.5 283.9 1022.3 287.7 1029.8 289.5 C1037.3 291.3 1044.5 292.1 1051.8 292.8 C1059.1 293.5 1066.4 293.6 1073.7 293.9 C1081.0 294.1 1088.5 294.5 1095.6 294.3 C1102.7 294.1 1109.2 293.3 1116.2 292.9 C1123.2 292.5 1130.2 292.1 1137.3 291.7 C1144.3 291.3 1151.4 291.0 1158.5 290.6 C1165.6 290.2 1172.7 290.2 1179.7 289.6 C1186.8 289.0 1193.8 288.1 1200.8 287.0 C1207.8 285.9 1214.9 283.7 1222.0 282.8 C1229.1 281.9 1236.2 282.1 1243.2 281.7 C1250.2 281.3 1255.8 281.3 1264.3 280.7 C1272.8 280.1 1289.0 278.4 1294.0 277.9" stroke="#a8960f"/>
<path d="M0.0 467.0 C5.0 464.4 20.2 456.6 30.3 451.3 C40.4 446.1 51.9 440.2 60.5 435.5 C69.1 430.8 76.8 426.0 81.7 423.2 C86.6 420.4 85.1 421.8 90.0 418.7 C94.9 415.6 104.2 409.4 111.2 404.9 C118.2 400.4 127.0 395.1 132.3 391.8 C137.6 388.5 139.4 387.2 142.9 385.2 C146.4 383.1 148.2 382.3 153.5 379.5 C158.8 376.7 167.6 372.0 174.7 368.5 C181.8 365.0 188.8 361.7 195.9 358.3 C203.0 354.9 209.9 351.6 217.0 348.2 C224.1 344.8 231.1 341.4 238.2 338.2 C245.3 335.0 252.3 332.3 259.4 329.1 C266.5 325.9 273.6 322.4 280.6 319.2 C287.7 315.9 294.6 312.7 301.7 309.6 C308.8 306.5 314.8 304.0 322.9 300.5 C330.9 297.0 341.2 292.5 350.0 288.7 C358.8 284.9 366.7 281.4 375.5 277.8 C384.3 274.2 394.4 270.3 402.7 267.4 C411.0 264.4 417.8 262.3 425.4 260.1 C432.9 257.9 440.4 256.3 448.0 254.4 C455.6 252.5 463.1 250.7 470.7 248.8 C478.3 246.9 485.8 245.1 493.4 243.1 C501.0 241.1 508.5 238.9 516.1 236.8 C523.7 234.7 531.2 232.5 538.8 230.6 C546.4 228.7 553.9 226.9 561.5 225.4 C569.1 223.9 577.8 222.6 584.2 221.6 C590.6 220.6 593.6 220.9 600.0 219.4 C606.4 217.9 615.1 214.7 622.7 212.6 C630.3 210.5 637.8 208.8 645.4 206.9 C653.0 205.0 660.5 203.0 668.1 201.3 C675.7 199.6 683.2 198.2 690.7 196.7 C698.2 195.2 705.8 193.7 713.4 192.2 C721.0 190.7 728.5 188.9 736.1 187.6 C743.7 186.3 751.2 185.1 758.8 184.2 C766.4 183.3 773.9 182.6 781.5 182.0 C789.1 181.4 798.5 181.1 804.2 180.8 C809.9 180.5 811.2 180.5 815.5 180.4 C819.8 180.3 822.7 180.2 830.0 180.3 C837.3 180.4 849.7 180.7 859.5 181.0 C869.3 181.3 879.2 181.4 889.0 182.0 C898.8 182.6 908.7 183.7 918.5 184.6 C928.3 185.5 938.2 186.8 948.0 187.5 C957.8 188.2 967.7 188.2 977.5 188.5 C987.3 188.8 998.8 189.2 1007.0 189.5 C1015.2 189.8 1020.2 190.0 1026.7 190.5 C1033.2 191.0 1039.8 191.7 1046.3 192.4 C1052.8 193.2 1059.4 194.0 1066.0 195.0 C1072.6 196.0 1080.9 197.5 1085.7 198.3 C1090.5 199.1 1089.9 198.7 1095.0 199.6 C1100.1 200.5 1109.2 202.8 1116.2 204.0 C1123.2 205.2 1130.2 205.5 1137.3 206.6 C1144.3 207.7 1151.4 209.1 1158.5 210.4 C1165.6 211.7 1172.7 213.3 1179.7 214.6 C1186.8 215.9 1193.8 217.4 1200.8 218.2 C1207.8 219.0 1214.9 218.8 1222.0 219.3 C1229.1 219.8 1236.2 220.6 1243.2 221.0 C1250.2 221.4 1258.3 221.9 1264.3 222.0 C1270.3 222.1 1274.2 222.0 1279.2 221.8 C1284.2 221.6 1291.5 221.1 1294.0 221.0" stroke="#e65c00"/>
<path d="M0.0 134.4 C1.1 134.2 4.3 133.3 6.4 133.2 C8.5 133.1 10.0 133.4 12.7 133.8 C15.4 134.2 19.1 135.0 22.7 135.6 C26.2 136.2 30.2 136.8 34.0 137.4 C37.8 138.0 41.6 138.8 45.4 139.4 C49.2 140.1 53.8 141.0 56.8 141.3 C59.8 141.6 60.6 141.8 63.6 141.3 C66.6 140.8 71.1 139.4 74.9 138.3 C78.7 137.2 82.9 135.9 86.3 134.5 C89.7 133.1 92.3 131.5 95.3 129.9 C98.3 128.3 101.4 126.6 104.4 124.7 C107.4 122.8 110.5 120.5 113.5 118.6 C116.5 116.7 119.6 114.9 122.6 113.3 C125.6 111.7 128.7 109.9 131.7 108.8 C134.7 107.7 138.0 106.9 140.7 106.5 C143.3 106.1 144.6 106.0 147.6 106.2 C150.6 106.4 154.8 107.5 158.9 107.9 C163.1 108.3 167.6 108.8 172.5 108.7 C177.4 108.6 183.8 107.4 188.4 107.4 C193.0 107.4 196.2 108.2 200.0 108.7 C203.8 109.2 206.5 109.8 211.4 110.3 C216.3 110.8 224.7 111.2 229.3 111.9 C233.9 112.6 235.9 113.4 239.2 114.4 C242.5 115.4 245.7 116.7 249.0 117.8 C252.3 118.9 256.2 120.2 258.8 120.9 C261.4 121.6 262.4 121.8 264.7 121.9 C267.0 122.0 269.3 121.6 272.6 121.3 C275.9 121.0 280.1 120.3 284.4 119.9 C288.7 119.5 293.6 119.1 298.2 118.9 C302.8 118.7 307.0 118.7 311.9 118.9 C316.8 119.1 323.1 120.3 327.7 120.3 C332.3 120.3 334.6 119.1 339.5 118.9 C344.4 118.7 351.0 118.7 357.2 118.9 C363.4 119.1 371.1 119.8 376.8 120.3 C382.5 120.8 387.0 121.2 391.3 121.8 C395.6 122.4 399.7 122.9 402.7 124.0 C405.7 125.1 405.7 125.8 409.5 128.6 C413.3 131.4 420.5 137.0 425.4 141.0 C430.3 145.0 434.5 149.1 439.0 152.4 C443.5 155.7 447.3 157.6 452.6 160.8 C457.9 164.0 465.4 168.4 470.7 171.7 C476.0 174.9 479.8 177.7 484.4 180.3 C488.9 182.9 493.5 185.1 498.0 187.1 C502.5 189.1 506.3 189.9 511.6 192.1 C516.9 194.2 523.3 197.3 529.7 200.0 C536.1 202.7 542.9 205.4 550.1 208.5 C557.3 211.6 567.1 216.2 572.8 218.7 C578.5 221.1 580.4 221.3 584.2 223.2 C588.0 225.0 592.3 228.5 595.5 229.8 C598.7 231.1 600.9 231.2 603.5 230.9 C606.1 230.6 608.2 229.3 611.4 228.2 C614.6 227.1 617.0 225.9 622.7 224.4 C628.4 222.9 637.8 220.9 645.4 219.4 C653.0 217.9 661.7 216.2 668.1 215.3 C674.5 214.4 678.2 213.8 683.9 213.7 C689.6 213.5 695.3 214.0 702.1 214.4 C708.9 214.8 717.2 215.1 724.8 216.0 C732.4 216.9 741.1 218.3 747.5 219.9 C753.9 221.5 757.6 222.9 763.3 225.8 C769.0 228.7 775.8 233.7 781.5 237.5 C787.2 241.3 792.5 245.8 797.4 248.9 C802.3 252.0 806.1 253.9 811.0 256.2 C815.9 258.5 822.1 260.5 826.9 262.5 C831.7 264.5 836.2 266.3 840.0 268.2 C843.8 270.1 844.8 271.7 849.7 273.7 C854.6 275.7 862.1 277.4 869.3 280.0 C876.5 282.6 884.0 285.5 892.9 289.1 C901.8 292.7 914.8 298.3 922.4 301.6 C930.0 304.9 931.9 306.6 938.3 309.0 C944.7 311.4 954.9 314.2 961.0 315.8 C967.1 317.4 969.0 317.1 975.0 318.4 C981.0 319.7 989.6 321.9 996.9 323.5 C1004.2 325.1 1012.3 326.6 1018.9 327.9 C1025.5 329.2 1030.4 330.3 1036.4 331.1 C1042.4 331.9 1050.6 332.9 1055.0 332.9 C1059.4 332.9 1058.5 332.1 1062.7 331.1 C1066.9 330.1 1073.0 328.8 1080.3 326.8 C1087.6 324.8 1099.3 322.0 1106.6 319.1 C1113.9 316.2 1118.2 312.5 1124.1 309.2 C1129.9 305.9 1136.0 302.3 1141.7 299.3 C1147.4 296.3 1152.2 293.2 1158.5 291.2 C1164.8 289.1 1174.4 288.2 1179.7 287.0 C1185.0 285.8 1186.1 285.9 1190.3 283.8 C1194.5 281.7 1199.8 277.5 1205.1 274.3 C1210.4 271.1 1215.7 268.0 1222.0 264.8 C1228.3 261.6 1236.2 259.2 1243.2 255.3 C1250.2 251.4 1258.3 245.4 1264.3 241.5 C1270.3 237.6 1274.2 235.2 1279.2 232.0 C1284.2 228.8 1291.5 224.0 1294.0 222.4" stroke="#4fb000"/>
</g>
<rect x="0" y="123.9" width="1444.5" height="1.25" fill="#2c4770"/>
<path d="M0 128 H1444" fill="none" stroke="#ff0000" stroke-width="2" stroke-dasharray="5 5"/>
<path d="M1302.7 228.2 L0 -1.1" fill="none" stroke="#1490ff" stroke-width="3.2" stroke-dasharray="5 5"/>
<g>
<rect x="-2" y="510.4" width="5" height="10.8" fill="#ff0000"/>
<rect x="4" y="510.4" width="5" height="10.8" fill="#ff0000"/>
<rect x="10" y="510.4" width="5" height="11.9" fill="#ff0000"/>
<rect x="16" y="510.4" width="5" height="12.3" fill="#ff0000"/>
<rect x="23" y="510.4" width="5" height="11.3" fill="#ff0000"/>
<rect x="29" y="510.4" width="5" height="10.8" fill="#ff0000"/>
<rect x="35" y="510.4" width="5" height="10.8" fill="#ff0000"/>
<rect x="42" y="510.4" width="5" height="10.0" fill="#ff0000"/>
<rect x="48" y="510.4" width="5" height="9.4" fill="#ff0000"/>
<rect x="54" y="510.4" width="5" height="7.8" fill="#ff0000"/>
<rect x="60" y="510.4" width="5" height="4.1" fill="#ff0000"/>
<rect x="67" y="510.4" width="5" height="0.5" fill="#ff0000"/>
<rect x="73" y="508.3" width="5" height="2.3" fill="#00ff00"/>
<rect x="79" y="504.9" width="5" height="5.7" fill="#00ff00"/>
<rect x="86" y="502.4" width="5" height="8.2" fill="#00ff00"/>
<rect x="92" y="497.5" width="5" height="13.1" fill="#00ff00"/>
<rect x="98" y="496.5" width="5" height="14.1" fill="#00ff00"/>
<rect x="104" y="494.0" width="5" height="16.6" fill="#00ff00"/>
<rect x="111" y="494.0" width="5" height="16.6" fill="#00ff00"/>
<rect x="117" y="495.0" width="5" height="15.6" fill="#00ff00"/>
<rect x="123" y="499.1" width="5" height="11.5" fill="#00ff00"/>
<rect x="130" y="501.4" width="5" height="9.2" fill="#00ff00"/>
<rect x="136" y="504.3" width="5" height="6.3" fill="#00ff00"/>
<rect x="142" y="508.6" width="5" height="2.0" fill="#00ff00"/>
<rect x="148" y="510.4" width="5" height="4.1" fill="#ff0000"/>
<rect x="155" y="510.4" width="5" height="7.4" fill="#ff0000"/>
<rect x="161" y="510.4" width="5" height="8.4" fill="#ff0000"/>
<rect x="167" y="510.4" width="5" height="9.8" fill="#ff0000"/>
<rect x="173" y="510.4" width="5" height="9.4" fill="#ff0000"/>
<rect x="180" y="510.4" width="5" height="6.1" fill="#ff0000"/>
<rect x="186" y="510.4" width="5" height="4.5" fill="#ff0000"/>
<rect x="192" y="510.4" width="5" height="6.1" fill="#ff0000"/>
<rect x="199" y="510.4" width="5" height="7.0" fill="#ff0000"/>
<rect x="205" y="510.4" width="5" height="5.9" fill="#ff0000"/>
<rect x="211" y="510.4" width="5" height="5.5" fill="#ff0000"/>
<rect x="217" y="510.4" width="5" height="5.1" fill="#ff0000"/>
<rect x="224" y="510.4" width="5" height="3.9" fill="#ff0000"/>
<rect x="230" y="510.4" width="5" height="3.5" fill="#ff0000"/>
<rect x="236" y="510.4" width="5" height="5.1" fill="#ff0000"/>
<rect x="243" y="510.4" width="5" height="6.5" fill="#ff0000"/>
<rect x="249" y="510.4" width="5" height="6.8" fill="#ff0000"/>
<rect x="255" y="510.4" width="5" height="6.5" fill="#ff0000"/>
<rect x="261" y="510.4" width="5" height="4.9" fill="#ff0000"/>
<rect x="268" y="510.4" width="5" height="1.0" fill="#ff0000"/>
<rect x="274" y="508.3" width="5" height="2.3" fill="#00ff00"/>
<rect x="280" y="505.9" width="5" height="4.7" fill="#00ff00"/>
<rect x="287" y="504.7" width="5" height="5.9" fill="#00ff00"/>
<rect x="293" y="504.8" width="5" height="5.8" fill="#00ff00"/>
<rect x="299" y="504.8" width="5" height="5.8" fill="#00ff00"/>
<rect x="305" y="505.4" width="5" height="5.2" fill="#00ff00"/>
<rect x="312" y="506.4" width="5" height="4.2" fill="#00ff00"/>
<rect x="318" y="508.4" width="5" height="2.2" fill="#00ff00"/>
<rect x="324" y="509.3" width="5" height="1.3" fill="#00ff00"/>
<rect x="331" y="508.7" width="5" height="1.9" fill="#00ff00"/>
<rect x="337" y="508.7" width="5" height="1.9" fill="#00ff00"/>
<rect x="343" y="508.7" width="5" height="1.9" fill="#00ff00"/>
<rect x="349" y="509.1" width="5" height="1.5" fill="#00ff00"/>
<rect x="356" y="509.5" width="5" height="1.1" fill="#00ff00"/>
<rect x="362" y="509.9" width="5" height="0.7" fill="#00ff00"/>
<rect x="368" y="510.1" width="5" height="0.5" fill="#00ff00"/>
<rect x="374" y="510.1" width="5" height="0.5" fill="#00ff00"/>
<rect x="381" y="510.1" width="5" height="0.5" fill="#00ff00"/>
<rect x="387" y="510.4" width="5" height="1.1" fill="#ff0000"/>
<rect x="393" y="510.4" width="5" height="1.1" fill="#ff0000"/>
<rect x="400" y="510.4" width="5" height="2.6" fill="#ff0000"/>
<rect x="406" y="510.4" width="5" height="8.5" fill="#ff0000"/>
<rect x="412" y="510.4" width="5" height="12.4" fill="#ff0000"/>
<rect x="418" y="510.4" width="5" height="15.7" fill="#ff0000"/>
<rect x="425" y="510.4" width="5" height="16.3" fill="#ff0000"/>
<rect x="431" y="510.4" width="5" height="15.4" fill="#ff0000"/>
<rect x="437" y="510.4" width="5" height="14.4" fill="#ff0000"/>
<rect x="444" y="510.4" width="5" height="11.8" fill="#ff0000"/>
<rect x="450" y="510.4" width="5" height="9.5" fill="#ff0000"/>
<rect x="456" y="510.4" width="5" height="6.6" fill="#ff0000"/>
<rect x="462" y="510.4" width="5" height="4.6" fill="#ff0000"/>
<rect x="469" y="510.4" width="5" height="3.2" fill="#ff0000"/>
<rect x="475" y="510.4" width="5" height="2.1" fill="#ff0000"/>
<rect x="481" y="510.4" width="5" height="2.2" fill="#ff0000"/>
<rect x="488" y="510.4" width="5" height="0.5" fill="#ff0000"/>
<rect x="494" y="509.5" width="5" height="1.1" fill="#00ff00"/>
<rect x="500" y="506.4" width="5" height="4.2" fill="#00ff00"/>
<rect x="506" y="504.8" width="5" height="5.8" fill="#00ff00"/>
<rect x="513" y="504.8" width="5" height="5.8" fill="#00ff00"/>
<rect x="519" y="504.8" width="5" height="5.8" fill="#00ff00"/>
<rect x="525" y="504.8" width="5" height="5.8" fill="#00ff00"/>
<rect x="532" y="504.8" width="5" height="5.8" fill="#00ff00"/>
<rect x="538" y="505.4" width="5" height="5.2" fill="#00ff00"/>
<rect x="544" y="506.8" width="5" height="3.8" fill="#00ff00"/>
<rect x="550" y="507.4" width="5" height="3.2" fill="#00ff00"/>
<rect x="557" y="508.0" width="5" height="2.6" fill="#00ff00"/>
<rect x="563" y="508.4" width="5" height="2.2" fill="#00ff00"/>
<rect x="569" y="507.4" width="5" height="3.2" fill="#00ff00"/>
<rect x="576" y="506.4" width="5" height="4.2" fill="#00ff00"/>
<rect x="582" y="507.4" width="5" height="3.2" fill="#00ff00"/>
<rect x="588" y="509.9" width="5" height="0.7" fill="#00ff00"/>
<rect x="594" y="510.4" width="5" height="0.9" fill="#ff0000"/>
<rect x="601" y="507.0" width="5" height="3.6" fill="#00ff00"/>
<rect x="607" y="501.5" width="5" height="9.1" fill="#00ff00"/>
<rect x="613" y="497.0" width="5" height="13.6" fill="#00ff00"/>
<rect x="619" y="496.2" width="5" height="14.4" fill="#00ff00"/>
<rect x="626" y="495.4" width="5" height="15.2" fill="#00ff00"/>
<rect x="632" y="497.0" width="5" height="13.6" fill="#00ff00"/>
<rect x="638" y="498.6" width="5" height="12.0" fill="#00ff00"/>
<rect x="645" y="499.9" width="5" height="10.7" fill="#00ff00"/>
<rect x="651" y="501.1" width="5" height="9.5" fill="#00ff00"/>
<rect x="657" y="502.9" width="5" height="7.7" fill="#00ff00"/>
<rect x="663" y="503.5" width="5" height="7.1" fill="#00ff00"/>
<rect x="670" y="504.8" width="5" height="5.8" fill="#00ff00"/>
<rect x="676" y="505.4" width="5" height="5.2" fill="#00ff00"/>
<rect x="682" y="507.4" width="5" height="3.2" fill="#00ff00"/>
<rect x="695" y="510.4" width="5" height="1.7" fill="#ff0000"/>
<rect x="701" y="510.4" width="5" height="1.7" fill="#ff0000"/>
<rect x="707" y="510.4" width="5" height="3.2" fill="#ff0000"/>
<rect x="714" y="510.4" width="5" height="3.6" fill="#ff0000"/>
<rect x="720" y="510.4" width="5" height="4.2" fill="#ff0000"/>
<rect x="726" y="510.4" width="5" height="5.0" fill="#ff0000"/>
<rect x="733" y="510.4" width="5" height="5.6" fill="#ff0000"/>
<rect x="739" y="510.4" width="5" height="6.0" fill="#ff0000"/>
<rect x="745" y="510.4" width="5" height="6.0" fill="#ff0000"/>
<rect x="751" y="510.4" width="5" height="6.6" fill="#ff0000"/>
<rect x="758" y="510.4" width="5" height="7.1" fill="#ff0000"/>
<rect x="764" y="510.4" width="5" height="7.5" fill="#ff0000"/>
<rect x="770" y="510.4" width="5" height="9.1" fill="#ff0000"/>
<rect x="777" y="510.4" width="5" height="11.1" fill="#ff0000"/>
<rect x="783" y="510.4" width="5" height="11.4" fill="#ff0000"/>
<rect x="789" y="510.4" width="5" height="12.4" fill="#ff0000"/>
<rect x="795" y="510.4" width="5" height="11.8" fill="#ff0000"/>
<rect x="802" y="510.4" width="5" height="10.5" fill="#ff0000"/>
<rect x="808" y="510.4" width="5" height="7.1" fill="#ff0000"/>
<rect x="814" y="510.4" width="5" height="4.6" fill="#ff0000"/>
<rect x="820" y="510.4" width="5" height="1.3" fill="#ff0000"/>
<rect x="827" y="510.4" width="5" height="0.5" fill="#ff0000"/>
<rect x="839" y="510.1" width="5" height="0.5" fill="#00ff00"/>
<rect x="846" y="510.1" width="5" height="0.5" fill="#00ff00"/>
<rect x="852" y="510.1" width="5" height="0.5" fill="#00ff00"/>
<rect x="858" y="509.5" width="5" height="1.1" fill="#00ff00"/>
<rect x="864" y="508.4" width="5" height="2.2" fill="#00ff00"/>
<rect x="871" y="507.4" width="5" height="3.2" fill="#00ff00"/>
<rect x="877" y="506.4" width="5" height="4.2" fill="#00ff00"/>
<rect x="883" y="507.4" width="5" height="3.2" fill="#00ff00"/>
<rect x="890" y="508.0" width="5" height="2.6" fill="#00ff00"/>
<rect x="896" y="508.4" width="5" height="2.2" fill="#00ff00"/>
<rect x="902" y="508.7" width="5" height="1.9" fill="#00ff00"/>
<rect x="908" y="508.7" width="5" height="1.9" fill="#00ff00"/>
<rect x="915" y="509.3" width="5" height="1.3" fill="#00ff00"/>
<rect x="921" y="509.5" width="5" height="1.1" fill="#00ff00"/>
<rect x="927" y="510.1" width="5" height="0.5" fill="#00ff00"/>
<rect x="934" y="510.4" width="5" height="1.3" fill="#ff0000"/>
<rect x="940" y="509.9" width="5" height="0.7" fill="#00ff00"/>
<rect x="946" y="509.3" width="5" height="1.3" fill="#00ff00"/>
<rect x="952" y="508.4" width="5" height="2.2" fill="#00ff00"/>
<rect x="959" y="508.0" width="5" height="2.6" fill="#00ff00"/>
<rect x="965" y="506.0" width="5" height="4.6" fill="#00ff00"/>
<rect x="971" y="506.0" width="5" height="4.6" fill="#00ff00"/>
<rect x="978" y="506.0" width="5" height="4.6" fill="#00ff00"/>
<rect x="984" y="506.8" width="5" height="3.8" fill="#00ff00"/>
<rect x="990" y="507.2" width="5" height="3.4" fill="#00ff00"/>
<rect x="996" y="507.2" width="5" height="3.4" fill="#00ff00"/>
<rect x="1003" y="507.2" width="5" height="3.4" fill="#00ff00"/>
<rect x="1009" y="507.0" width="5" height="3.6" fill="#00ff00"/>
<rect x="1015" y="507.6" width="5" height="3.0" fill="#00ff00"/>
<rect x="1021" y="508.4" width="5" height="2.2" fill="#00ff00"/>
<rect x="1028" y="508.9" width="5" height="1.7" fill="#00ff00"/>
<rect x="1034" y="510.1" width="5" height="0.5" fill="#00ff00"/>
<rect x="1040" y="509.5" width="5" height="1.1" fill="#00ff00"/>
<rect x="1047" y="508.9" width="5" height="1.7" fill="#00ff00"/>
<rect x="1053" y="508.4" width="5" height="2.2" fill="#00ff00"/>
<rect x="1059" y="506.4" width="5" height="4.2" fill="#00ff00"/>
<rect x="1065" y="503.9" width="5" height="6.7" fill="#00ff00"/>
<rect x="1072" y="502.9" width="5" height="7.7" fill="#00ff00"/>
<rect x="1078" y="503.9" width="5" height="6.7" fill="#00ff00"/>
<rect x="1084" y="503.1" width="5" height="7.5" fill="#00ff00"/>
<rect x="1091" y="503.9" width="5" height="6.7" fill="#00ff00"/>
<rect x="1097" y="503.9" width="5" height="6.7" fill="#00ff00"/>
<rect x="1103" y="504.8" width="5" height="5.8" fill="#00ff00"/>
<rect x="1109" y="502.5" width="5" height="8.1" fill="#00ff00"/>
<rect x="1116" y="501.5" width="5" height="9.1" fill="#00ff00"/>
<rect x="1122" y="502.1" width="5" height="8.5" fill="#00ff00"/>
<rect x="1128" y="502.1" width="5" height="8.5" fill="#00ff00"/>
<rect x="1135" y="502.9" width="5" height="7.7" fill="#00ff00"/>
<rect x="1141" y="504.4" width="5" height="6.2" fill="#00ff00"/>
<rect x="1147" y="506.4" width="5" height="4.2" fill="#00ff00"/>
<rect x="1153" y="508.0" width="5" height="2.6" fill="#00ff00"/>
<rect x="1160" y="509.5" width="5" height="1.1" fill="#00ff00"/>
<rect x="1166" y="510.4" width="5" height="1.1" fill="#ff0000"/>
<rect x="1172" y="510.4" width="5" height="2.2" fill="#ff0000"/>
<rect x="1179" y="510.4" width="5" height="3.6" fill="#ff0000"/>
<rect x="1185" y="510.4" width="5" height="3.2" fill="#ff0000"/>
<rect x="1191" y="510.4" width="5" height="1.7" fill="#ff0000"/>
<rect x="1197" y="509.7" width="5" height="0.9" fill="#00ff00"/>
<rect x="1204" y="508.7" width="5" height="1.9" fill="#00ff00"/>
<rect x="1210" y="507.0" width="5" height="3.6" fill="#00ff00"/>
<rect x="1216" y="507.4" width="5" height="3.2" fill="#00ff00"/>
<rect x="1222" y="507.8" width="5" height="2.8" fill="#00ff00"/>
<rect x="1229" y="508.4" width="5" height="2.2" fill="#00ff00"/>
<rect x="1235" y="509.3" width="5" height="1.3" fill="#00ff00"/>
<rect x="1241" y="510.4" width="5" height="0.5" fill="#ff0000"/>
<rect x="1248" y="509.9" width="5" height="0.7" fill="#00ff00"/>
<rect x="1254" y="509.3" width="5" height="1.3" fill="#00ff00"/>
<rect x="1260" y="508.9" width="5" height="1.7" fill="#00ff00"/>
<rect x="1266" y="508.5" width="5" height="2.1" fill="#00ff00"/>
<rect x="1273" y="507.4" width="5" height="3.2" fill="#00ff00"/>
<rect x="1279" y="508.5" width="5" height="2.1" fill="#00ff00"/>
<rect x="1285" y="507.8" width="5" height="2.8" fill="#00ff00"/>
<rect x="1292" y="507.8" width="5" height="2.8" fill="#00ff00"/>
</g>
<g fill="none" stroke-width="1" stroke-linejoin="round">
<path d="M0.0 499.3 C1.6 500.3 6.5 503.3 9.8 505.2 C13.0 507.1 16.3 509.0 19.6 510.7 C22.8 512.4 26.1 514.0 29.3 515.4 C32.6 516.7 35.9 517.7 39.1 518.9 C42.4 520.1 45.6 521.5 48.9 522.4 C52.2 523.3 55.4 523.9 58.7 524.4 C61.9 524.8 65.2 525.3 68.5 525.2 C71.7 525.1 75.0 524.7 78.2 523.8 C81.5 522.9 84.8 521.5 88.0 519.9 C91.3 518.2 94.5 516.0 97.8 514.0 C101.0 512.0 104.3 510.1 107.6 508.1 C110.8 506.2 114.1 504.1 117.3 502.3 C120.6 500.5 123.9 498.7 127.1 497.4 C130.4 496.1 134.0 495.1 136.9 494.4 C139.8 493.8 142.1 493.3 144.7 493.5 C147.3 493.6 149.6 494.4 152.6 495.4 C155.5 496.4 159.1 498.1 162.3 499.3 C165.6 500.6 168.9 501.8 172.1 502.9 C175.4 503.9 178.6 504.7 181.9 505.6 C185.1 506.5 188.4 507.2 191.7 508.1 C194.9 509.1 198.2 510.3 201.4 511.1 C204.7 511.9 208.0 512.4 211.2 513.0 C214.5 513.7 217.7 514.4 221.0 515.0 C224.3 515.6 227.5 515.8 230.8 516.5 C234.0 517.3 237.3 518.4 240.6 519.3 C243.8 520.2 247.1 521.1 250.3 521.8 C253.6 522.6 256.9 523.4 260.1 523.8 C263.4 524.2 267.0 524.5 269.9 524.4 C272.8 524.3 274.8 523.7 277.7 523.2 C280.7 522.7 285.5 521.5 287.5 521.2 C289.5 520.9 288.0 521.8 290.0 521.4 C292.0 520.9 296.5 519.2 299.8 518.4 C303.0 517.6 306.3 517.0 309.6 516.5 C312.8 515.9 316.1 515.5 319.3 515.1 C322.6 514.7 325.5 514.4 329.1 514.1 C332.7 513.8 336.9 513.4 340.9 513.1 C344.8 512.9 348.7 512.7 352.6 512.6 C356.5 512.4 360.4 512.2 364.3 512.2 C368.2 512.1 372.1 512.1 376.1 512.2 C380.0 512.2 384.5 512.2 387.8 512.4 C391.0 512.5 393.0 512.7 395.6 513.1 C398.2 513.6 400.8 514.1 403.4 515.1 C406.0 516.1 408.7 517.6 411.3 519.0 C413.9 520.4 416.5 522.0 419.1 523.5 C421.7 525.0 424.3 526.3 426.9 527.8 C429.5 529.3 432.1 531.2 434.7 532.7 C437.3 534.2 439.9 535.5 442.6 536.6 C445.2 537.7 447.8 538.7 450.4 539.5 C453.0 540.4 455.6 541.2 458.2 541.9 C460.8 542.5 463.4 543.0 466.0 543.5 C468.6 543.9 471.2 544.3 473.8 544.6 C476.5 545.0 479.1 545.2 481.7 545.4 C484.3 545.6 486.9 545.9 489.5 545.8 C492.1 545.7 494.7 545.4 497.3 545.0 C499.9 544.6 502.2 544.1 505.1 543.5 C508.1 542.8 511.7 541.9 514.9 541.1 C518.2 540.3 521.4 539.3 524.7 538.6 C528.0 537.8 531.2 537.3 534.5 536.6 C537.7 536.0 541.0 535.2 544.3 534.7 C547.5 534.1 550.8 533.7 554.0 533.3 C557.3 532.9 560.6 532.5 563.8 532.1 C567.1 531.7 570.9 531.1 573.6 530.7 C576.3 530.4 577.3 530.3 580.0 530.2 C582.7 530.1 587.0 530.1 589.8 530.2 C592.5 530.3 594.0 531.0 596.6 530.7 C599.2 530.5 602.3 529.9 605.4 528.8 C608.5 527.6 611.9 525.8 615.2 523.9 C618.5 522.0 621.4 519.8 625.0 517.6 C628.6 515.5 632.8 513.1 636.7 511.2 C640.6 509.3 644.5 507.7 648.5 506.3 C652.4 504.9 656.3 503.9 660.2 502.8 C664.1 501.6 668.3 500.2 671.9 499.4 C675.5 498.7 678.8 498.3 681.7 498.1 C684.6 497.8 686.9 497.9 689.5 497.9 C692.1 497.9 694.1 497.8 697.3 498.1 C700.6 498.4 705.2 499.2 709.1 499.8 C713.0 500.5 716.9 501.0 720.8 501.8 C724.7 502.5 728.6 503.4 732.6 504.3 C736.5 505.2 740.4 506.2 744.3 507.3 C748.2 508.3 752.1 509.5 756.0 510.8 C759.9 512.1 763.8 513.6 767.8 515.1 C771.7 516.6 775.6 518.3 779.5 520.0 C783.4 521.7 787.6 523.8 791.2 525.5 C794.8 527.1 797.7 528.6 801.0 529.8 C804.3 531.0 807.5 532.0 810.8 532.7 C814.0 533.4 817.3 533.8 820.6 534.1 C823.8 534.3 826.8 534.3 830.3 534.3 C833.9 534.2 838.2 533.8 842.1 533.7 C846.0 533.6 850.2 533.8 853.8 533.7 C857.4 533.5 860.9 533.0 863.6 532.7 C866.3 532.4 867.3 532.2 870.0 531.9 C872.7 531.6 876.5 531.2 879.8 530.7 C883.0 530.3 886.3 529.8 889.6 529.4 C892.8 529.0 896.1 528.7 899.3 528.4 C902.6 528.1 905.2 528.0 909.1 527.8 C913.0 527.6 918.2 527.1 922.8 527.0 C927.4 527.0 932.3 527.5 936.5 527.4 C940.7 527.4 944.3 527.0 948.2 526.6 C952.1 526.3 956.1 525.8 960.0 525.3 C963.9 524.7 967.8 523.9 971.7 523.3 C975.6 522.7 979.5 522.1 983.4 521.5 C987.3 521.0 991.3 520.5 995.2 520.0 C999.1 519.5 1003.0 518.9 1006.9 518.4 C1010.8 517.9 1014.7 517.4 1018.6 517.0 C1022.6 516.7 1026.5 516.3 1030.4 516.1 C1034.3 515.8 1038.2 515.9 1042.1 515.7 C1046.0 515.4 1049.9 515.1 1053.8 514.5 C1057.8 513.9 1062.0 513.0 1065.6 512.2 C1069.2 511.3 1072.1 510.1 1075.4 509.2 C1078.6 508.3 1081.9 507.5 1085.1 506.7 C1088.4 505.9 1091.7 505.2 1094.9 504.3 C1098.2 503.5 1101.4 502.8 1104.7 501.8 C1108.0 500.8 1111.2 499.6 1114.5 498.5 C1117.7 497.3 1121.0 496.0 1124.3 494.9 C1127.5 493.9 1130.8 492.9 1134.0 492.0 C1137.3 491.1 1140.6 490.4 1143.8 489.7 C1147.1 489.0 1150.9 488.3 1153.6 487.9 C1156.3 487.5 1157.3 487.2 1160.0 487.2 C1162.7 487.3 1166.5 487.9 1169.8 488.3 C1173.0 488.7 1176.3 489.3 1179.6 489.7 C1182.8 490.1 1186.7 490.4 1189.3 490.6 C1191.9 490.9 1192.6 491.4 1195.2 491.2 C1197.8 491.1 1201.7 490.2 1205.0 489.7 C1208.2 489.2 1211.5 488.7 1214.8 488.3 C1218.0 487.9 1221.3 487.4 1224.5 487.1 C1227.8 486.9 1231.1 486.8 1234.3 486.7 C1237.6 486.7 1240.8 486.8 1244.1 486.7 C1247.4 486.6 1250.3 486.5 1253.9 486.1 C1257.5 485.8 1262.0 485.2 1265.6 484.8 C1269.2 484.4 1272.1 484.1 1275.4 483.8 C1278.7 483.5 1282.1 483.1 1285.2 482.8 C1288.2 482.5 1292.3 482.2 1293.8 482.0" stroke="#fb7e22"/>
<path d="M0.0 511.1 C1.6 511.8 6.5 513.8 9.8 515.4 C13.0 516.9 16.3 518.9 19.6 520.5 C22.8 522.0 26.1 523.4 29.3 524.8 C32.6 526.1 35.9 527.6 39.1 528.7 C42.4 529.7 46.0 530.7 48.9 531.2 C51.8 531.8 54.1 532.6 56.7 532.0 C59.3 531.4 61.6 529.5 64.5 527.7 C67.5 525.9 71.1 523.7 74.3 521.2 C77.6 518.8 81.2 516.2 84.1 513.0 C87.0 509.9 89.0 505.5 91.9 502.3 C94.9 499.0 98.8 495.8 101.7 493.5 C104.6 491.2 106.9 489.9 109.5 488.6 C112.1 487.2 114.4 485.7 117.3 485.3 C120.3 484.8 123.9 485.7 127.1 486.0 C130.4 486.4 134.0 486.3 136.9 487.2 C139.8 488.1 142.4 489.6 144.7 491.5 C147.0 493.5 148.3 496.7 150.6 498.9 C152.9 501.2 155.5 503.3 158.4 505.2 C161.4 507.1 165.3 509.3 168.2 510.5 C171.1 511.6 173.1 511.7 176.0 512.0 C179.0 512.4 182.5 512.0 185.8 512.4 C189.1 512.9 192.3 514.2 195.6 515.0 C198.8 515.7 202.1 516.3 205.4 516.9 C208.6 517.6 211.9 518.5 215.1 518.9 C218.4 519.3 221.7 518.9 224.9 519.3 C228.2 519.7 231.4 520.2 234.7 521.2 C238.0 522.3 241.2 524.5 244.5 525.7 C247.7 527.0 251.2 528.1 254.3 528.7 C257.4 529.2 260.4 529.6 263.1 529.1 C265.7 528.6 267.5 527.3 269.9 525.7 C272.3 524.2 274.8 521.6 277.7 519.9 C280.7 518.1 285.5 516.1 287.5 515.4 C289.5 514.6 288.0 515.9 290.0 515.5 C292.0 515.0 296.5 513.4 299.8 512.7 C303.0 512.1 306.6 511.8 309.6 511.8 C312.5 511.7 314.8 512.3 317.4 512.6 C320.0 512.8 322.6 513.2 325.2 513.1 C327.8 513.1 330.4 512.5 333.0 512.2 C335.6 511.9 337.6 511.5 340.9 511.4 C344.1 511.3 348.7 511.4 352.6 511.6 C356.5 511.7 360.4 512.1 364.3 512.2 C368.2 512.3 372.1 511.9 376.1 512.2 C380.0 512.4 384.5 513.1 387.8 513.5 C391.0 514.0 393.3 514.1 395.6 514.7 C397.9 515.3 399.5 515.5 401.5 517.0 C403.4 518.6 405.1 521.3 407.3 523.9 C409.6 526.5 412.6 529.9 415.2 532.7 C417.8 535.5 420.4 538.4 423.0 540.5 C425.6 542.6 428.0 543.9 430.8 545.4 C433.6 546.9 437.0 548.6 439.6 549.3 C442.2 550.1 444.3 549.8 446.5 549.9 C448.6 550.0 450.0 549.9 452.3 549.7 C454.6 549.5 457.2 549.2 460.2 548.9 C463.1 548.7 467.0 548.5 469.9 548.3 C472.9 548.1 475.5 547.8 477.8 547.8 C480.0 547.8 481.7 548.6 483.6 548.3 C485.6 548.1 487.2 547.1 489.5 546.4 C491.8 545.6 495.0 544.8 497.3 543.8 C499.6 542.9 501.2 541.6 503.2 540.5 C505.1 539.4 506.8 538.1 509.0 537.2 C511.3 536.3 514.3 535.9 516.9 535.2 C519.5 534.6 521.8 533.9 524.7 533.3 C527.6 532.6 531.2 531.7 534.5 531.3 C537.7 531.0 541.0 531.4 544.3 531.3 C547.5 531.3 550.4 531.3 554.0 531.1 C557.6 531.0 562.5 530.9 565.8 530.3 C569.0 529.8 571.2 528.4 573.6 527.8 C576.0 527.2 578.3 526.8 580.0 526.6 C581.8 526.5 582.3 526.4 583.9 526.8 C585.5 527.3 587.7 528.4 589.8 529.2 C591.9 529.9 594.7 531.6 596.6 531.3 C598.6 531.1 599.4 529.9 601.5 527.8 C603.6 525.8 606.4 522.3 609.3 519.0 C612.3 515.7 616.2 511.0 619.1 508.2 C622.0 505.5 624.0 503.9 626.9 502.4 C629.9 500.8 633.5 499.8 636.7 498.9 C640.0 497.9 643.2 497.1 646.5 496.5 C649.8 495.9 653.0 495.5 656.3 495.1 C659.5 494.8 662.5 494.4 666.1 494.2 C669.6 493.9 674.5 493.6 677.8 493.8 C681.0 493.9 682.7 494.2 685.6 495.1 C688.5 496.1 692.1 498.3 695.4 499.4 C698.7 500.6 701.6 501.0 705.2 502.0 C708.8 503.0 713.0 504.2 716.9 505.3 C720.8 506.4 724.7 507.3 728.6 508.6 C732.6 509.9 736.5 511.8 740.4 513.1 C744.3 514.5 748.2 515.4 752.1 516.7 C756.0 518.0 760.6 519.4 763.8 521.0 C767.1 522.5 769.1 524.2 771.7 525.9 C774.3 527.5 776.2 528.8 779.5 530.7 C782.8 532.7 787.3 535.8 791.2 537.6 C795.1 539.4 799.7 541.1 803.0 541.5 C806.2 541.9 808.2 540.5 810.8 539.9 C813.4 539.3 816.0 538.9 818.6 538.0 C821.2 537.1 823.8 535.4 826.4 534.7 C829.0 533.9 831.3 533.5 834.3 533.3 C837.2 533.1 840.8 533.3 844.0 533.3 C847.3 533.3 850.6 533.8 853.8 533.3 C857.1 532.8 860.9 531.1 863.6 530.3 C866.3 529.6 867.3 529.5 870.0 528.9 C872.7 528.2 876.5 526.8 879.8 526.4 C883.0 526.0 886.3 526.4 889.6 526.4 C892.8 526.4 896.1 526.6 899.3 526.4 C902.6 526.3 905.2 525.6 909.1 525.5 C913.0 525.4 919.2 525.5 922.8 525.9 C926.4 526.2 928.3 526.9 930.6 527.4 C932.9 527.9 934.2 529.0 936.5 528.8 C938.8 528.6 941.4 527.1 944.3 526.2 C947.3 525.4 951.2 524.5 954.1 523.9 C957.0 523.2 959.3 523.0 961.9 522.3 C964.5 521.6 966.8 520.3 969.7 519.6 C972.7 518.9 975.9 518.5 979.5 518.0 C983.1 517.6 987.3 517.4 991.3 517.0 C995.2 516.7 999.7 516.1 1003.0 515.7 C1006.3 515.3 1007.6 514.7 1010.8 514.5 C1014.1 514.3 1019.3 514.5 1022.6 514.5 C1025.8 514.5 1028.1 514.5 1030.4 514.7 C1032.7 514.9 1033.6 515.8 1036.2 515.7 C1038.9 515.6 1042.8 514.7 1046.0 514.1 C1049.3 513.5 1052.9 513.1 1055.8 512.2 C1058.7 511.2 1061.0 509.9 1063.6 508.2 C1066.2 506.6 1068.8 503.6 1071.4 502.4 C1074.1 501.2 1076.7 501.7 1079.3 501.0 C1081.9 500.4 1084.2 499.2 1087.1 498.5 C1090.0 497.7 1093.6 497.1 1096.9 496.5 C1100.1 495.9 1103.4 496.1 1106.7 494.9 C1109.9 493.8 1113.2 491.1 1116.4 489.7 C1119.7 488.2 1122.9 487.4 1126.2 486.3 C1129.5 485.3 1133.1 484.0 1136.0 483.6 C1138.9 483.2 1141.2 483.6 1143.8 483.8 C1146.4 484.0 1148.9 484.5 1151.6 484.8 C1154.3 485.1 1157.0 484.8 1160.0 485.7 C1163.0 486.5 1166.5 488.3 1169.8 489.7 C1173.0 491.0 1176.6 492.8 1179.6 493.6 C1182.5 494.4 1184.9 494.7 1187.4 494.6 C1189.8 494.5 1191.6 494.0 1194.2 493.0 C1196.8 492.0 1199.9 490.0 1203.0 488.7 C1206.1 487.4 1209.2 486.1 1212.8 485.4 C1216.4 484.6 1221.0 484.2 1224.5 484.2 C1228.1 484.2 1231.1 484.7 1234.3 485.2 C1237.6 485.7 1240.8 487.1 1244.1 487.1 C1247.4 487.1 1250.3 485.9 1253.9 485.2 C1257.5 484.5 1262.0 483.6 1265.6 482.8 C1269.2 482.0 1272.8 480.5 1275.4 480.3 C1278.0 480.0 1279.3 481.3 1281.3 481.3 C1283.2 481.2 1285.0 480.3 1287.1 479.9 C1289.2 479.4 1292.7 478.7 1293.8 478.5" stroke="#2346f2"/>
</g>
<g fill="none" stroke-linejoin="miter" stroke-linecap="butt">
<path d="M0.0 613.1 L9.8 615.7 L19.6 616.6 L25.4 613.7 L31.3 614.7 L38.1 617.6 L45.0 618.6 L56.7 617.6 L68.5 609.8 L74.3 608.2 L82.1 605.3 L87.4 604.5 L93.9 594.1 L100.3 593.6 L109.5 598.0 L119.3 602.0 L127.1 605.9 L138.9 608.8 L145.7 611.7 L156.5 617.0 L166.2 618.0 L175.6 619.6 L181.9 614.1 L187.8 614.1 L194.6 617.2 L200.5 619.0 L207.3 615.7 L213.2 617.2 L220.0 619.0 L225.9 614.7 L232.7 616.2 L239.6 618.6 L248.4 620.2 L257.2 621.5 L264.0 619.0 L269.9 607.8 L276.2 603.5 L282.6 604.9 L289.5 606.4 L295.5 603.9 L301.7 605.9 L308.6 608.4 L314.4 610.8 L321.3 613.1 L327.2 613.7 L333.0 611.3 L338.9 615.3 L345.7 616.2 L351.6 617.0 L358.5 618.2 L364.3 618.6 L370.2 619.6 L377.0 622.5 L382.9 623.5 L389.7 624.5 L395.6 625.0 L401.9 626.4 L408.1 629.9 L414.6 631.3 L421.0 632.7 L426.9 633.3 L433.8 632.3 L439.6 632.9 L445.9 634.2 L452.3 630.7 L458.2 630.9 L466.0 631.9 L471.9 632.3 L477.8 632.9 L483.6 633.3 L489.5 630.7 L496.3 629.9 L502.6 622.1 L508.7 622.9 L514.9 624.8 L521.8 625.4 L527.6 626.4 L534.5 627.4 L540.3 628.4 L546.6 629.0 L553.1 629.7 L559.5 630.3 L565.8 630.9 L571.6 624.8 L577.5 624.1 L580.0 624.5 L584.3 625.4 L590.8 628.0 L597.0 628.8 L603.1 601.4 L609.3 572.2 L615.6 578.9 L622.0 582.8 L628.9 586.3 L634.8 589.6 L640.6 592.6 L647.5 594.5 L653.3 593.7 L659.6 596.1 L666.1 594.7 L671.9 596.7 L678.4 598.4 L684.6 601.0 L691.1 604.3 L697.3 605.3 L703.6 601.0 L710.1 604.3 L715.9 606.5 L722.4 607.4 L728.6 608.8 L735.1 611.2 L741.4 612.1 L747.6 610.8 L754.1 613.7 L759.9 614.7 L766.2 615.1 L772.6 619.0 L778.9 622.9 L785.4 623.9 L791.6 625.8 L797.5 628.0 L803.9 629.0 L810.4 622.1 L816.7 623.1 L823.1 619.0 L829.4 620.5 L835.6 621.9 L842.1 623.1 L847.9 623.5 L854.2 616.2 L860.7 617.6 L866.9 615.7 L870.0 615.7 L873.9 615.7 L879.8 617.0 L885.6 618.6 L891.5 619.6 L898.4 620.5 L904.2 621.5 L911.1 622.1 L916.9 623.5 L923.2 624.5 L929.7 625.8 L936.1 627.0 L942.4 614.1 L948.6 615.7 L955.1 616.6 L961.3 617.2 L967.8 607.8 L973.7 606.3 L980.1 607.8 L986.4 608.8 L992.6 604.9 L999.1 607.2 L1005.3 604.3 L1011.8 600.0 L1018.1 602.0 L1024.5 603.9 L1030.8 604.9 L1036.6 607.8 L1043.1 603.9 L1049.3 605.3 L1055.8 602.9 L1062.1 595.1 L1068.5 584.9 L1074.4 584.0 L1080.6 587.9 L1087.1 589.2 L1093.4 589.2 L1099.8 591.8 L1106.1 593.6 L1112.5 578.5 L1118.8 582.8 L1125.2 586.3 L1131.5 584.9 L1137.4 587.3 L1143.8 595.1 L1150.1 597.7 L1156.5 600.6 L1160.0 601.4 L1162.3 602.0 L1168.2 605.3 L1174.7 607.8 L1180.9 609.2 L1187.4 605.5 L1193.6 596.1 L1200.1 586.7 L1206.4 588.9 L1212.8 588.9 L1218.7 592.2 L1224.9 594.1 L1231.4 597.7 L1237.6 596.7 L1244.1 599.4 L1250.0 589.8 L1256.4 590.8 L1262.7 591.8 L1268.9 592.6 L1275.4 587.3 L1281.3 592.8 L1287.5 593.6 L1293.8 592.8" stroke="#33ff00" stroke-width="2.1"/>
<path d="M0.0 613.7 L9.8 610.8 L18.6 607.2 L25.4 608.8 L31.3 608.4 L38.1 605.9 L44.0 604.9 L52.8 606.9 L60.6 609.2 L68.5 611.7 L78.2 613.7 L86.1 615.3 L93.9 618.2 L101.7 621.5 L109.5 623.5 L119.3 625.0 L126.1 619.0 L133.0 618.2 L137.9 619.2 L144.7 611.7 L150.6 601.4 L156.5 598.6 L163.3 602.4 L172.1 604.9 L181.9 608.4 L187.8 609.8 L194.6 601.6 L199.5 602.0 L207.3 603.9 L213.2 603.5 L220.0 605.9 L226.9 608.2 L232.7 607.4 L239.6 601.4 L244.5 599.0 L252.3 601.0 L263.1 603.9 L271.9 608.8 L281.6 611.7 L289.7 613.5 L295.9 616.2 L301.7 617.2 L308.6 616.6 L314.4 614.3 L321.3 613.1 L327.2 613.3 L333.0 615.3 L338.9 612.3 L345.7 613.1 L351.6 613.7 L358.5 609.8 L364.3 610.8 L370.2 610.2 L377.0 602.0 L382.9 603.9 L389.7 601.6 L395.6 601.6 L401.9 598.0 L408.1 574.6 L414.6 579.9 L421.0 575.6 L426.9 579.5 L433.8 582.4 L439.6 583.0 L445.5 584.4 L452.3 586.9 L458.2 588.3 L466.0 589.2 L471.9 589.2 L477.8 590.8 L483.6 587.9 L489.5 592.2 L496.3 595.1 L502.2 599.4 L508.7 601.4 L514.9 599.4 L521.8 600.6 L527.6 600.0 L534.5 601.4 L540.3 600.4 L546.6 597.1 L553.1 598.4 L559.5 597.5 L565.8 599.4 L571.6 602.9 L577.5 604.9 L580.0 603.9 L584.3 602.0 L590.8 586.3 L597.0 587.9 L603.1 602.0 L609.3 611.3 L615.6 614.3 L622.0 617.2 L628.9 616.2 L634.8 616.2 L640.6 617.2 L647.5 618.2 L653.3 619.0 L659.6 616.6 L666.1 618.6 L671.9 620.0 L678.4 620.9 L684.6 617.2 L691.1 608.8 L697.3 610.2 L703.6 612.1 L710.1 610.4 L715.9 611.2 L722.4 612.1 L728.6 608.8 L735.1 605.9 L741.4 606.5 L747.6 608.4 L754.1 601.0 L759.9 601.4 L766.2 602.9 L772.6 589.2 L778.9 580.8 L785.4 583.4 L791.6 582.0 L797.5 581.4 L803.9 584.9 L810.4 592.2 L816.7 594.7 L823.1 598.0 L829.4 601.0 L835.6 597.5 L842.1 597.1 L847.9 598.4 L854.2 603.5 L860.7 605.9 L866.9 607.8 L870.0 608.8 L873.9 609.2 L879.8 607.2 L885.6 606.3 L891.5 604.5 L898.4 604.3 L904.2 604.5 L911.1 605.9 L916.9 602.0 L923.2 603.5 L929.7 599.4 L936.1 593.7 L942.4 603.5 L948.6 606.5 L955.1 607.4 L961.3 608.2 L967.8 611.3 L973.7 614.1 L980.1 612.3 L986.4 612.1 L992.6 614.1 L999.1 610.8 L1005.3 612.1 L1011.8 614.1 L1018.1 612.1 L1024.5 609.8 L1030.8 610.8 L1036.6 602.9 L1043.1 608.4 L1049.3 609.8 L1055.8 611.7 L1062.1 615.3 L1068.5 618.6 L1074.4 621.9 L1080.6 619.0 L1087.1 621.9 L1093.4 623.5 L1099.8 622.9 L1106.1 623.9 L1112.5 626.8 L1118.8 628.0 L1125.2 629.0 L1131.5 629.9 L1137.4 630.3 L1143.8 621.9 L1150.1 622.5 L1156.5 622.1 L1160.0 622.5 L1162.3 623.1 L1168.2 615.1 L1174.7 614.3 L1180.9 615.7 L1187.4 618.0 L1193.6 620.5 L1200.1 622.9 L1206.4 623.9 L1212.8 625.4 L1218.7 626.4 L1224.9 627.0 L1231.4 623.1 L1237.6 624.8 L1244.1 620.9 L1250.0 623.9 L1256.4 625.0 L1262.7 625.8 L1268.9 627.0 L1275.4 627.8 L1281.3 624.5 L1287.5 627.0 L1293.8 628.0" stroke="#ff0000" stroke-width="2.1"/>
<path d="M-2.0 613.7 h4.2M4.3 615.0 h4.2M10.6 616.1 h4.2M16.8 616.9 h4.2M23.1 617.9 h4.2M29.4 618.4 h4.2M35.7 617.7 h4.2M42.0 617.6 h4.2M48.3 617.6 h4.2M54.5 617.6 h4.2M60.8 618.5 h4.2M67.1 619.5 h4.2M73.4 620.5 h4.2M79.7 620.4 h4.2M85.9 620.2 h4.2M92.2 617.9 h4.2M98.5 615.3 h4.2M104.8 612.8 h4.2M111.1 610.4 h4.2M117.4 608.6 h4.2M123.6 608.3 h4.2M129.9 608.8 h4.2M136.2 609.6 h4.2M142.5 611.4 h4.2M148.8 611.5 h4.2M155.0 611.1 h4.2M161.3 610.6 h4.2M167.6 610.4 h4.2M173.9 610.4 h4.2M180.2 612.1 h4.2M186.4 612.9 h4.2M192.7 612.4 h4.2M199.0 611.6 h4.2M205.3 612.7 h4.2M211.6 611.9 h4.2M217.9 611.7 h4.2M224.1 612.4 h4.2M230.4 613.1 h4.2M236.7 612.3 h4.2M243.0 610.9 h4.2M249.3 609.7 h4.2M255.5 609.2 h4.2M261.8 609.6 h4.2M268.1 611.2 h4.2M274.4 612.5 h4.2M280.7 612.9 h4.2M287.0 613.9 h4.2M293.2 614.4 h4.2M299.5 614.9 h4.2M305.8 615.5 h4.2M312.1 616.6 h4.2M318.4 617.9 h4.2M324.6 619.5 h4.2M330.9 620.7 h4.2M337.2 621.6 h4.2M343.5 622.6 h4.2M349.8 623.5 h4.2M356.0 623.5 h4.2M362.3 623.2 h4.2M368.6 622.3 h4.2M374.9 620.4 h4.2M381.2 618.2 h4.2M387.5 616.3 h4.2M393.7 613.6 h4.2M400.0 609.8 h4.2M406.3 605.2 h4.2M412.6 600.9 h4.2M418.9 594.8 h4.2M425.1 590.6 h4.2M431.4 586.5 h4.2M437.7 582.3 h4.2M444.0 578.4 h4.2M450.3 575.2 h4.2M456.6 573.0 h4.2M462.8 570.5 h4.2M469.1 568.4 h4.2M475.4 566.3 h4.2M481.7 563.8 h4.2M488.0 562.5 h4.2M494.2 562.5 h4.2M500.5 563.4 h4.2M506.8 565.3 h4.2M513.1 566.8 h4.2M519.4 567.3 h4.2M525.6 567.4 h4.2M531.9 568.1 h4.2M538.2 568.1 h4.2M544.5 567.3 h4.2M550.8 566.4 h4.2M557.1 566.2 h4.2M563.3 565.2 h4.2M569.6 566.4 h4.2M575.9 568.4 h4.2M582.2 568.4 h4.2M588.5 567.2 h4.2M594.7 566.4 h4.2M601.0 571.1 h4.2M607.3 572.2 h4.2M613.6 572.9 h4.2M619.9 573.6 h4.2M626.2 574.4 h4.2M632.4 575.1 h4.2M638.7 576.3 h4.2M645.0 577.4 h4.2M651.3 578.9 h4.2M657.6 580.4 h4.2M663.8 580.6 h4.2M670.1 580.9 h4.2M676.4 582.2 h4.2M682.7 583.5 h4.2M689.0 586.9 h4.2M695.2 590.2 h4.2M701.5 592.2 h4.2M707.8 595.4 h4.2M714.1 598.2 h4.2M720.4 600.6 h4.2M726.7 603.4 h4.2M732.9 605.5 h4.2M739.2 607.4 h4.2M745.5 608.8 h4.2M751.8 609.4 h4.2M758.1 610.4 h4.2M764.3 610.3 h4.2M770.6 608.4 h4.2M776.9 605.4 h4.2M783.2 602.4 h4.2M789.5 598.1 h4.2M795.8 594.9 h4.2M802.0 591.2 h4.2M808.3 590.6 h4.2M814.6 589.6 h4.2M820.9 590.6 h4.2M827.2 590.6 h4.2M833.4 590.6 h4.2M839.7 589.7 h4.2M846.0 589.7 h4.2M852.3 590.7 h4.2M858.6 592.2 h4.2M864.9 594.6 h4.2M871.1 598.0 h4.2M877.4 599.0 h4.2M883.7 599.8 h4.2M890.0 600.6 h4.2M896.3 600.6 h4.2M902.5 600.6 h4.2M908.8 600.0 h4.2M915.1 599.4 h4.2M921.4 598.0 h4.2M927.7 596.7 h4.2M933.9 595.7 h4.2M940.2 596.5 h4.2M946.5 597.7 h4.2M952.8 599.0 h4.2M959.1 601.2 h4.2M965.4 603.4 h4.2M971.6 604.9 h4.2M977.9 606.4 h4.2M984.2 608.3 h4.2M990.5 610.2 h4.2M996.8 611.2 h4.2M1003.0 612.3 h4.2M1009.3 612.8 h4.2M1015.6 613.3 h4.2M1021.9 614.2 h4.2M1028.2 615.2 h4.2M1034.5 616.8 h4.2M1040.7 618.5 h4.2M1047.0 619.5 h4.2M1053.3 619.6 h4.2M1059.6 618.3 h4.2M1065.9 615.5 h4.2M1072.1 612.4 h4.2M1078.4 610.2 h4.2M1084.7 607.4 h4.2M1091.0 604.4 h4.2M1097.3 602.1 h4.2M1103.5 600.1 h4.2M1109.8 597.7 h4.2M1116.1 593.9 h4.2M1122.4 590.6 h4.2M1128.7 587.3 h4.2M1135.0 584.9 h4.2M1141.2 584.4 h4.2M1147.5 584.4 h4.2M1153.8 584.4 h4.2M1160.1 585.1 h4.2M1166.4 587.6 h4.2M1172.6 590.4 h4.2M1178.9 592.4 h4.2M1185.2 593.5 h4.2M1191.5 593.2 h4.2M1197.8 591.8 h4.2M1204.1 590.7 h4.2M1210.3 588.4 h4.2M1216.6 586.3 h4.2M1222.9 584.7 h4.2M1229.2 584.4 h4.2M1235.5 583.4 h4.2M1241.7 584.3 h4.2M1248.0 583.3 h4.2M1254.3 581.4 h4.2M1260.6 580.1 h4.2M1266.9 579.1 h4.2M1273.1 577.2 h4.2M1279.4 576.1 h4.2M1285.7 575.1 h4.2M1292.0 574.5 h4.2" stroke="#0000ff" stroke-width="1.15" stroke-linecap="round"/>
</g>
<g shape-rendering="crispEdges" fill="#666">
<rect x="712" y="471" width="20" height="1"/>
<rect x="712" y="473" width="20" height="1"/>
<rect x="712" y="475" width="20" height="1"/>
<rect x="712" y="554" width="20" height="1"/>
<rect x="712" y="556" width="20" height="1"/>
<rect x="712" y="558" width="20" height="1"/>
</g>
<rect x="5" y="5" width="77" height="21" fill="#000" fill-opacity="0.6"/>
<rect x="5" y="5" width="2" height="21" fill="#2f7f6d"/>
<text class="lg" x="16" y="19.9">BTC/USD</text>
<rect x="5" y="32" width="90" height="21" fill="#000" fill-opacity="0.6"/>
<rect x="5" y="32" width="2" height="21" fill="#e65c00"/>
<text class="lg" x="16" y="46.2">SMA (200,0)</text>
<rect x="5" y="59" width="90" height="21" fill="#000" fill-opacity="0.6"/>
<rect x="5" y="59" width="2" height="21" fill="#a8960f"/>
<text class="lg" x="16" y="73.2">SMA (100,0)</text>
<rect x="5" y="86" width="84" height="21" fill="#000" fill-opacity="0.6"/>
<rect x="5" y="86" width="2" height="21" fill="#4fb000"/>
<text class="lg" x="16" y="100.2">EMA (50,0)</text>
<rect x="5" y="482" width="109" height="21" fill="#000" fill-opacity="0.6"/>
<rect x="5" y="482" width="2" height="21" fill="#0033ff"/>
<text class="lg" x="16" y="496.2">MACD (12,26,9)</text>
<rect x="5" y="565" width="76" height="21" fill="#000" fill-opacity="0.6"/>
<rect x="5" y="565" width="2" height="21" fill="#33ff00"/>
<text class="lg" x="16" y="580.0">DMS (14)</text>
<g fill="#808080">
<rect x="1445" y="19.3" width="5" height="1"/>
<rect x="1445" y="47.6" width="5" height="1"/>
<rect x="1445" y="77.1" width="5" height="1"/>
<rect x="1445" y="108.0" width="5" height="1"/>
<rect x="1445" y="140.4" width="5" height="1"/>
<rect x="1445" y="174.5" width="5" height="1"/>
<rect x="1445" y="210.4" width="5" height="1"/>
<rect x="1445" y="248.4" width="5" height="1"/>
<rect x="1445" y="288.7" width="5" height="1"/>
<rect x="1445" y="331.6" width="5" height="1"/>
<rect x="1445" y="377.4" width="5" height="1"/>
<rect x="1445" y="426.6" width="5" height="1"/>
<rect x="1445" y="510.1" width="5" height="1"/>
<rect x="1445" y="544.5" width="5" height="1"/>
<rect x="1445" y="579.4" width="5" height="1"/>
<rect x="1445" y="611.2" width="5" height="1"/>
</g>
<text x="1452.0" y="23.7" style="letter-spacing:-0.09px">12,000.000</text>
<text x="1452.0" y="52.0" style="letter-spacing:-0.09px">11,500.000</text>
<text x="1452.0" y="81.5" style="letter-spacing:-0.09px">11,000.000</text>
<text x="1452.0" y="112.4" style="letter-spacing:-0.09px">10,500.000</text>
<text x="1452.0" y="144.8" style="letter-spacing:-0.09px">10,000.000</text>
<text x="1452.0" y="178.9" style="letter-spacing:-0.09px">9,500.000</text>
<text x="1452.0" y="214.8" style="letter-spacing:-0.09px">9,000.000</text>
<text x="1452.0" y="252.8" style="letter-spacing:-0.09px">8,500.000</text>
<text x="1452.0" y="293.1" style="letter-spacing:-0.09px">8,000.000</text>
<text x="1452.0" y="336.0" style="letter-spacing:-0.09px">7,500.000</text>
<text x="1452.0" y="381.8" style="letter-spacing:-0.09px">7,000.000</text>
<text x="1452.0" y="431.0" style="letter-spacing:-0.09px">6,500.000</text>
<text x="1451.6" y="513.8" style="letter-spacing:0">-0.000</text>
<text x="1451.6" y="548.8" style="letter-spacing:0">-500.000</text>
<text x="1452.0" y="583.8" style="letter-spacing:-0.09px">40.000</text>
<text x="1452.0" y="615.4" style="letter-spacing:-0.09px">20.000</text>
<path d="M1444.6 124.5 L1447.2 121.5 V118.8 a2 2 0 0 1 2 -2 H1509.4 a2 2 0 0 1 2 2 V130.7 a2 2 0 0 1 -2 2 H1449.2 a2 2 0 0 1 -2 -2 V127.5 Z" fill="#2f4a73"/>
<text x="1452.8" y="128.9" style="font-weight:bold;fill:#fff;stroke:#fff;stroke-width:0.25;letter-spacing:-0.05px">10,253.484</text>
<g shape-rendering="crispEdges" fill="#777">
<rect x="0" y="636" width="1" height="2"/>
<rect x="44" y="636" width="1" height="2"/>
<rect x="69" y="636" width="1" height="2"/>
<rect x="100" y="636" width="1" height="2"/>
<rect x="132" y="636" width="1" height="2"/>
<rect x="163" y="636" width="1" height="2"/>
<rect x="194" y="636" width="1" height="2"/>
<rect x="226" y="636" width="1" height="2"/>
<rect x="263" y="636" width="1" height="2"/>
<rect x="295" y="636" width="1" height="2"/>
<rect x="326" y="636" width="1" height="2"/>
<rect x="358" y="636" width="1" height="2"/>
<rect x="389" y="636" width="1" height="2"/>
<rect x="420" y="636" width="1" height="2"/>
<rect x="452" y="636" width="1" height="2"/>
<rect x="483" y="636" width="1" height="2"/>
<rect x="515" y="636" width="1" height="2"/>
<rect x="546" y="636" width="1" height="2"/>
<rect x="578" y="636" width="1" height="2"/>
<rect x="609" y="636" width="1" height="2"/>
<rect x="647" y="636" width="1" height="2"/>
<rect x="678" y="636" width="1" height="2"/>
<rect x="709" y="636" width="1" height="2"/>
<rect x="741" y="636" width="1" height="2"/>
<rect x="772" y="636" width="1" height="2"/>
<rect x="804" y="636" width="1" height="2"/>
<rect x="835" y="636" width="1" height="2"/>
<rect x="866" y="636" width="1" height="2"/>
<rect x="898" y="636" width="1" height="2"/>
<rect x="929" y="636" width="1" height="2"/>
<rect x="961" y="636" width="1" height="2"/>
<rect x="992" y="636" width="1" height="2"/>
<rect x="1030" y="636" width="1" height="2"/>
<rect x="1061" y="636" width="1" height="2"/>
<rect x="1093" y="636" width="1" height="2"/>
<rect x="1124" y="636" width="1" height="2"/>
<rect x="1155" y="636" width="1" height="2"/>
<rect x="1187" y="636" width="1" height="2"/>
<rect x="1224" y="636" width="1" height="2"/>
<rect x="1256" y="636" width="1" height="2"/>
<rect x="1287" y="636" width="1" height="2"/>
<rect x="1319" y="636" width="1" height="2"/>
<rect x="1350" y="636" width="1" height="2"/>
<rect x="1382" y="636" width="1" height="2"/>
<rect x="1407" y="636" width="1" height="2"/>
</g>
<text x="0" y="652">Jul</text>
<text x="44.1" y="652" text-anchor="middle">28</text>
<text x="69.2" y="652" text-anchor="middle">Aug</text>
<text x="100.6" y="652" text-anchor="middle">6</text>
<text x="132.0" y="652" text-anchor="middle">11</text>
<text x="163.4" y="652" text-anchor="middle">16</text>
<text x="194.8" y="652" text-anchor="middle">21</text>
<text x="226.2" y="652" text-anchor="middle">26</text>
<text x="263.9" y="652" text-anchor="middle">Sep</text>
<text x="295.3" y="652" text-anchor="middle">6</text>
<text x="326.7" y="652" text-anchor="middle">11</text>
<text x="358.1" y="652" text-anchor="middle">16</text>
<text x="389.6" y="652" text-anchor="middle">21</text>
<text x="421.0" y="652" text-anchor="middle">26</text>
<text x="452.4" y="652" text-anchor="middle">Oct</text>
<text x="483.8" y="652" text-anchor="middle">6</text>
<text x="515.2" y="652" text-anchor="middle">11</text>
<text x="546.6" y="652" text-anchor="middle">16</text>
<text x="578.0" y="652" text-anchor="middle">21</text>
<text x="609.4" y="652" text-anchor="middle">26</text>
<text x="647.1" y="652" text-anchor="middle">Nov</text>
<text x="678.5" y="652" text-anchor="middle">6</text>
<text x="709.9" y="652" text-anchor="middle">11</text>
<text x="741.3" y="652" text-anchor="middle">16</text>
<text x="772.7" y="652" text-anchor="middle">21</text>
<text x="804.1" y="652" text-anchor="middle">26</text>
<text x="835.5" y="652" text-anchor="middle">Dec</text>
<text x="867.0" y="652" text-anchor="middle">6</text>
<text x="898.4" y="652" text-anchor="middle">11</text>
<text x="929.8" y="652" text-anchor="middle">16</text>
<text x="961.2" y="652" text-anchor="middle">21</text>
<text x="992.6" y="652" text-anchor="middle">26</text>
<text x="1030.3" y="652" text-anchor="middle">Jan</text>
<text x="1061.7" y="652" text-anchor="middle">6</text>
<text x="1093.1" y="652" text-anchor="middle">11</text>
<text x="1124.5" y="652" text-anchor="middle">16</text>
<text x="1155.9" y="652" text-anchor="middle">21</text>
<text x="1187.3" y="652" text-anchor="middle">26</text>
<text x="1225.0" y="652" text-anchor="middle">Feb</text>
<text x="1256.4" y="652" text-anchor="middle">6</text>
<text x="1287.8" y="652" text-anchor="middle">11</text>
<text x="1319.2" y="652" text-anchor="middle">16</text>
<text x="1350.6" y="652" text-anchor="middle">21</text>
<text x="1382.0" y="652" text-anchor="middle">26</text>
<text x="1407.2" y="652" text-anchor="middle">Mar</text>
</svg></body></html>
